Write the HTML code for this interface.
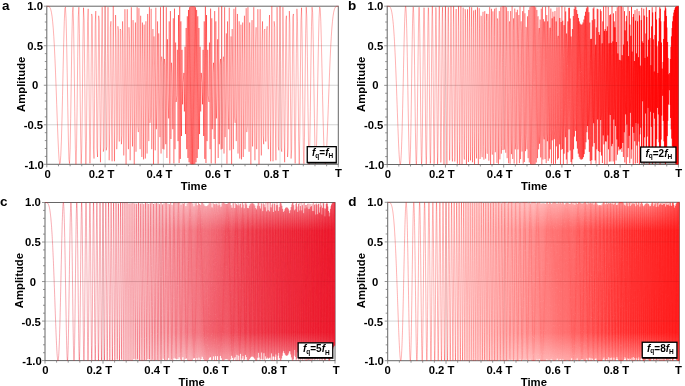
<!DOCTYPE html>
<html><head><meta charset="utf-8"><style>
html,body{margin:0;padding:0;background:#fff;width:685px;height:386px;overflow:hidden}
svg{display:block}
text{font-family:"Liberation Sans",sans-serif;font-weight:bold;fill:#000}
</style></head><body>
<svg width="685" height="386" viewBox="0 0 685 386">
<defs><filter id="lin" color-interpolation-filters="sRGB"><feComponentTransfer><feFuncA type="table" tableValues="0 0.01 0.02 0.029 0.039 0.049 0.059 0.069 0.079 0.088 0.098 0.108 0.118 0.128 0.137 0.147 0.157 0.167 0.177 0.187 0.196 0.206 0.216 0.225 0.234 0.244 0.253 0.262 0.271 0.281 0.29 0.299 0.308 0.318 0.327 0.336 0.345 0.355 0.364 0.373 0.389 0.405 0.421 0.437 0.453 0.469 0.484 0.5 0.516 0.532 0.548 0.564 0.58 0.599 0.62 0.641 0.662 0.683 0.704 0.726 0.747 0.768 0.789 0.808 0.82 0.832 0.845 0.857 0.87 0.882 0.893 0.904 0.915 0.927 0.938 0.949 0.96 0.967 0.973 0.98 0.987 0.993 1 1 1 1 1 1 1 1 1 1 1 1 1 1 1 1 1 1 1"/></feComponentTransfer><feGaussianBlur stdDeviation="0.3"/></filter></defs>
<path d="M105.1 6.2V164.3" stroke="#dcdcdc" stroke-width="0.9" stroke-opacity="1"/><path d="M163.4 6.2V164.3" stroke="#dcdcdc" stroke-width="0.9" stroke-opacity="1"/><path d="M221.7 6.2V164.3" stroke="#dcdcdc" stroke-width="0.9" stroke-opacity="1"/><path d="M280 6.2V164.3" stroke="#dcdcdc" stroke-width="0.9" stroke-opacity="1"/><path d="M46.8 45.72H338.3M46.8 85.25H338.3M46.8 124.78H338.3" fill="none" stroke="#dadada" stroke-width="0.9"/>
<rect x="46.8" y="6.2" width="291.5" height="158.1" fill="none" stroke="#666" stroke-width="1"/>
<g filter="url(#lin)" fill="none" stroke="#ff0000" stroke-linejoin="round"><path d="M46.8 6.2 47.38 6.2 47.97 6.22 48.55 6.33 49.13 6.6 49.71 7.17 50.3 8.21 50.88 9.92 51.46 12.51 52.05 16.22 52.63 21.3 53.21 27.97 53.8 36.41 54.38 46.73 54.96 58.94 55.54 72.88 56.13 88.23 56.71 104.43 57.29 120.69 57.88 136.02 58.46 149.2 59.04 158.93 59.63 163.9 60.21 162.99 60.79 155.46 61.38 141.15" stroke-width="0.320"/><path d="M61.38 141.15 61.96 120.69 62.54 95.65 63.12 68.49 63.71 42.47 64.29 21.3 64.87 8.56 65.46 7.1 66.04 18.24 66.62 41.23 67.2 72.88 67.79 107.78 68.37 139 68.95 159.46 69.54 163.61 70.12 149.2 70.7 118.46 71.29 78.31 71.87 39.19 72.45 12.51 73.03 7.17 73.62 26.28 74.2 65.11 74.78 111.56 75.37 149.49 75.95 164.3" stroke-width="0.320"/><path d="M75.95 164.3 76.53 148.91 77.12 107.78 77.7 56.61 78.28 16.96 78.86 7.17 79.45 33.35 80.03 84.75 80.61 137.15 81.2 163.74 81.78 149.2 82.36 99.57 82.95 41.23 83.53 7.69 84.11 20.15 84.69 72.88 85.28 134.09 85.86 164.11 86.44 141.5 87.03 79.79 87.61 21.3 88.19 8.81 88.78 53.4 89.36 122.9 89.94 163.4 90.53 141.15" stroke-width="0.320"/><path d="M90.53 141.15 91.11 72.39 91.69 13.94 92.27 16.96 92.86 80.78 93.44 149.2 94.02 158.56 94.61 98.11 95.19 24.66 95.77 11.04 96.36 72.88 96.94 148.01 97.52 156.99 98.1 88.23 98.69 15.74 99.27 21.3 99.85 100.55 100.44 162.29 101.02 132.12 101.6 44.58 102.19 7.17 102.77 68.49 103.35 151.73 103.93 148.01 104.52 60.35 105.1 6.2" stroke-width="0.320"/><path d="M105.1 6.2 105.68 61.3 106.27 150.35 106.85 146.47 107.43 53.4 108.01 7.17 108.6 78.31 109.18 160.28 109.76 125.92 110.35 27.29 110.93 21.3 111.51 119.36 112.1 161.3 112.68 75.84 113.26 6.22 113.84 72.88 114.43 161.3 115.01 114.81 115.59 15.04 116.18 43.31 116.76 149.2 117.34 135.25 117.93 26.28 118.51 30.78 119.09 141.5 119.67 141.15" stroke-width="0.320"/><path d="M119.67 141.15 120.26 29 120.84 30.78 121.42 144.22 122.01 135.25 122.59 21.3 123.17 43.31 123.76 155.46 124.34 114.81 124.92 9.2 125.5 72.88 126.09 164.28 126.67 75.84 127.25 9.2 127.84 119.36 128.42 149.2 129 27.29 129.59 44.58 130.17 160.28 130.75 92.19 131.33 7.17 131.92 117.1 132.5 146.47 133.08 20.15 133.67 61.3 134.25 164.3" stroke-width="0.320"/><path d="M134.25 164.3 134.83 60.35 135.42 22.49 136 151.73 136.58 102.01 137.16 7.17 137.75 125.92 138.33 132.12 138.91 8.21 139.5 100.55 140.08 149.2 140.66 15.74 141.25 82.27 141.83 156.99 142.41 22.49 143 72.88 143.58 159.46 144.16 24.66 144.74 72.39 145.33 158.56 145.91 21.3 146.49 80.78 147.08 153.54 147.66 13.94 148.24 98.11 148.82 141.15" stroke-width="0.320"/><path d="M148.82 141.15 149.41 7.1 149.99 122.9 150.57 117.1 151.16 8.81 151.74 149.2 152.32 79.79 152.91 29 153.49 164.11 154.07 36.41 154.66 72.88 155.24 150.35 155.82 7.69 156.4 129.27 156.99 99.57 157.57 21.3 158.15 163.74 158.74 33.35 159.32 84.75 159.9 137.15 160.49 7.17 161.07 153.54 161.65 56.61 162.23 62.72 162.82 148.91 163.4 6.2" stroke-width="0.320"/><path d="M163.4 6.2 163.98 149.49 164.57 58.94 165.15 65.11 165.73 144.22 166.31 7.17 166.9 157.99 167.48 39.19 168.06 92.19 168.65 118.46 169.23 21.3 169.81 163.61 170.4 11.04 170.98 139 171.56 62.72 172.14 72.88 172.73 129.27 173.31 18.24 173.89 163.4 174.48 8.56 175.06 149.2 175.64 42.47 176.23 102.01 176.81 95.65 177.39 49.81 177.98 141.15" stroke-width="0.338"/><path d="M177.98 141.15 178.56 15.04 179.14 162.99 179.72 6.6 180.31 158.93 180.89 21.3 181.47 136.02 182.06 49.81 182.64 104.43 183.22 82.27 183.81 72.88 184.39 111.56 184.97 46.73 185.55 134.09 186.14 27.97 186.72 149.2 187.3 16.22 187.89 157.99 188.47 9.92 189.05 162.29 189.63 7.17 190.22 163.9 190.8 6.33 191.38 164.28 191.97 6.2 192.55 164.3" stroke-width="0.370"/><path d="M192.55 164.3 193.13 6.2 193.72 164.28 194.3 6.33 194.88 163.9 195.46 7.17 196.05 162.29 196.63 9.92 197.21 157.99 197.8 16.22 198.38 149.2 198.96 27.97 199.55 134.09 200.13 46.73 200.71 111.56 201.3 72.88 201.88 82.27 202.46 104.43 203.04 49.81 203.63 136.02 204.21 21.3 204.79 158.93 205.38 6.6 205.96 162.99 206.54 15.04 207.12 141.15" stroke-width="0.370"/><path d="M207.12 141.15 207.71 49.81 208.29 95.65 208.87 102.01 209.46 42.47 210.04 149.2 210.62 8.56 211.21 163.4 211.79 18.24 212.37 129.27 212.95 72.88 213.54 62.72 214.12 139 214.7 11.04 215.29 163.61 215.87 21.3 216.45 118.46 217.04 92.19 217.62 39.19 218.2 157.99 218.78 7.17 219.37 144.22 219.95 65.11 220.53 58.94 221.12 149.49 221.7 6.2" stroke-width="0.338"/><path d="M221.7 6.2 222.28 148.91 222.87 62.72 223.45 56.61 224.03 153.54 224.62 7.17 225.2 137.15 225.78 84.75 226.36 33.35 226.95 163.74 227.53 21.3 228.11 99.57 228.7 129.27 229.28 7.69 229.86 150.35 230.44 72.88 231.03 36.41 231.61 164.11 232.19 29 232.78 79.79 233.36 149.2 233.94 8.81 234.53 117.1 235.11 122.9 235.69 7.1 236.27 141.15" stroke-width="0.320"/><path d="M236.27 141.15 236.86 98.11 237.44 13.94 238.02 153.54 238.61 80.78 239.19 21.3 239.77 158.56 240.36 72.39 240.94 24.66 241.52 159.46 242.11 72.88 242.69 22.49 243.27 156.99 243.85 82.27 244.44 15.74 245.02 149.2 245.6 100.55 246.19 8.21 246.77 132.12 247.35 125.92 247.94 7.17 248.52 102.01 249.1 151.73 249.68 22.49 250.27 60.35 250.85 164.3" stroke-width="0.320"/><path d="M250.85 164.3 251.43 61.3 252.02 20.15 252.6 146.47 253.18 117.1 253.76 7.17 254.35 92.19 254.93 160.28 255.51 44.58 256.1 27.29 256.68 149.2 257.26 119.36 257.85 9.2 258.43 75.84 259.01 164.28 259.59 72.88 260.18 9.2 260.76 114.81 261.34 155.46 261.93 43.31 262.51 21.3 263.09 135.25 263.68 144.22 264.26 30.78 264.84 29 265.43 141.15" stroke-width="0.320"/><path d="M265.43 141.15 266.01 141.5 266.59 30.78 267.17 26.28 267.76 135.25 268.34 149.2 268.92 43.31 269.51 15.04 270.09 114.81 270.67 161.3 271.25 72.88 271.84 6.22 272.42 75.84 273 161.3 273.59 119.36 274.17 21.3 274.75 27.29 275.34 125.92 275.92 160.28 276.5 78.31 277.08 7.17 277.67 53.4 278.25 146.47 278.83 150.35 279.42 61.3 280 6.2" stroke-width="0.320"/><path d="M280 6.2 280.58 60.35 281.17 148.01 281.75 151.73 282.33 68.49 282.92 7.17 283.5 44.58 284.08 132.12 284.66 162.29 285.25 100.55 285.83 21.3 286.41 15.74 287 88.23 287.58 156.99 288.16 148.01 288.75 72.88 289.33 11.04 289.91 24.66 290.49 98.11 291.08 158.56 291.66 149.2 292.24 80.78 292.83 16.96 293.41 13.94 293.99 72.39 294.57 141.15" stroke-width="0.320"/><path d="M294.57 141.15 295.16 163.4 295.74 122.9 296.32 53.4 296.91 8.81 297.49 21.3 298.07 79.79 298.66 141.5 299.24 164.11 299.82 134.09 300.4 72.88 300.99 20.15 301.57 7.69 302.15 41.23 302.74 99.57 303.32 149.2 303.9 163.74 304.49 137.15 305.07 84.75 305.65 33.35 306.24 7.17 306.82 16.96 307.4 56.61 307.98 107.78 308.57 148.91 309.15 164.3" stroke-width="0.320"/><path d="M309.15 164.3 309.73 149.49 310.32 111.56 310.9 65.11 311.48 26.28 312.06 7.17 312.65 12.51 313.23 39.19 313.81 78.31 314.4 118.46 314.98 149.2 315.56 163.61 316.15 159.46 316.73 139 317.31 107.78 317.9 72.88 318.48 41.23 319.06 18.24 319.64 7.1 320.23 8.56 320.81 21.3 321.39 42.47 321.98 68.49 322.56 95.65 323.14 120.69 323.73 141.15" stroke-width="0.320"/><path d="M323.73 141.15 324.31 155.46 324.89 162.99 325.47 163.9 326.06 158.93 326.64 149.2 327.22 136.02 327.81 120.69 328.39 104.43 328.97 88.23 329.56 72.88 330.14 58.94 330.72 46.73 331.3 36.41 331.89 27.97 332.47 21.3 333.05 16.22 333.64 12.51 334.22 9.92 334.8 8.21 335.38 7.17 335.97 6.6 336.55 6.33 337.13 6.22 337.72 6.2 338.3 6.2" stroke-width="0.320"/></g>
<path d="M46.8 45.72H338.3M46.8 85.25H338.3M46.8 124.78H338.3" fill="none" stroke="#f4f4f4" stroke-width="0.9" style="mix-blend-mode:multiply"/>
<path d="M46.8 164.3v3M58.46 164.3v2M70.12 164.3v2M81.78 164.3v2M93.44 164.3v2M105.1 164.3v3M116.76 164.3v2M128.42 164.3v2M140.08 164.3v2M151.74 164.3v2M163.4 164.3v3M175.06 164.3v2M186.72 164.3v2M198.38 164.3v2M210.04 164.3v2M221.7 164.3v3M233.36 164.3v2M245.02 164.3v2M256.68 164.3v2M268.34 164.3v2M280 164.3v3M291.66 164.3v2M303.32 164.3v2M314.98 164.3v2M326.64 164.3v2M338.3 164.3v3M46.8 164.3h-3M46.8 156.4h-2M46.8 148.49h-2M46.8 140.59h-2M46.8 132.68h-2M46.8 124.78h-3M46.8 116.87h-2M46.8 108.97h-2M46.8 101.06h-2M46.8 93.16h-2M46.8 85.25h-3M46.8 77.34h-2M46.8 69.44h-2M46.8 61.53h-2M46.8 53.63h-2M46.8 45.72h-3M46.8 37.82h-2M46.8 29.91h-2M46.8 22.01h-2M46.8 14.1h-2M46.8 6.2h-3" fill="none" stroke="#777" stroke-width="0.8"/>
<rect x="307.25" y="146.65" width="29" height="15.8" fill="#fff" stroke="#000" stroke-width="1.3"/><path d="M307.4 163.3H336.9" stroke="#000" stroke-width="0.9" stroke-opacity="0.8"/>
<path d="M445.44 6.2V164.5" stroke="#dcdcdc" stroke-width="0.9" stroke-opacity="1"/><path d="M503.68 6.2V164.5" stroke="#dcdcdc" stroke-width="0.9" stroke-opacity="0.6"/><path d="M561.92 6.2V164.5" stroke="#dcdcdc" stroke-width="0.9" stroke-opacity="0.3"/><path d="M620.16 6.2V164.5" stroke="#dcdcdc" stroke-width="0.9" stroke-opacity="0.15"/><path d="M387.2 45.77H678.4M387.2 85.35H678.4M387.2 124.92H678.4" fill="none" stroke="#dadada" stroke-width="0.9"/>
<rect x="387.2" y="6.2" width="291.2" height="158.3" fill="none" stroke="#666" stroke-width="1"/>
<g filter="url(#lin)" fill="none" stroke="#ff0000" stroke-linejoin="round"><path d="M387.2 6.2 387.49 6.2 387.78 6.2 388.07 6.21 388.36 6.22 388.66 6.26 388.95 6.33 389.24 6.43 389.53 6.6 389.82 6.84 390.11 7.17 390.4 7.63 390.69 8.22 390.99 8.97 391.28 9.92 391.57 11.09 391.86 12.51 392.15 14.22 392.44 16.23 392.73 18.59 393.02 21.32 393.32 24.44 393.61 27.99 393.9 31.99 394.19 36.45 394.48 41.38 394.77 46.78 395.06 52.67 395.35 59.01 395.64 65.79 395.94 72.97 396.23 80.5 396.52 88.33 396.81 96.38 397.1 104.55 397.39 112.75 397.68 120.84 397.97 128.7 398.27 136.18 398.56 143.13 398.85 149.38 399.14 154.77 399.43 159.12 399.72 162.28 400.01 164.1 400.3 164.44 400.6 163.19 400.89 160.27 401.18 155.65 401.47 149.31 401.76 141.32" stroke-width="0.320"/><path d="M401.76 141.32 402.05 131.77 402.34 120.84 402.63 108.74 402.92 95.76 403.22 82.24 403.51 68.57 403.8 55.18 404.09 42.52 404.38 31.08 404.67 21.32 404.96 13.68 405.25 8.56 405.55 6.29 405.84 7.1 406.13 11.09 406.42 18.26 406.71 28.42 407 41.27 407.29 56.33 407.58 72.97 407.88 90.44 408.17 107.91 408.46 124.46 408.75 139.17 409.04 151.16 409.33 159.65 409.62 164.01 409.91 163.81 410.2 158.9 410.5 149.38 410.79 135.71 411.08 118.6 411.37 99.08 411.66 78.4 411.95 57.95 412.24 39.23 412.53 23.66 412.83 12.51 413.12 6.81 413.41 7.17 413.7 13.79 413.99 26.31 414.28 43.89 414.57 65.18 414.86 88.46 415.16 111.69 415.45 132.77 415.74 149.67 416.03 160.66 416.32 164.5" stroke-width="0.320"/><path d="M416.32 164.5 416.61 160.59 416.9 149.09 417.19 130.96 417.48 107.91 417.78 82.24 418.07 56.68 418.36 34.04 418.65 16.97 418.94 7.58 419.23 7.17 419.52 16.05 419.81 33.38 420.11 57.26 420.4 84.85 420.69 112.75 420.98 137.32 421.27 155.24 421.56 163.94 421.85 161.98 422.14 149.38 422.44 127.66 422.73 99.69 423.02 69.42 423.31 41.27 423.6 19.54 423.89 7.7 424.18 7.82 424.47 20.17 424.76 43.04 425.06 72.97 425.35 105.15 425.64 134.25 425.93 155.24 426.22 164.31 426.51 159.61 426.8 141.67 427.09 113.44 427.39 79.88 427.68 47.11 427.97 21.32 428.26 7.58 428.55 8.81 428.84 25.08 429.13 53.46 429.42 88.46 429.72 123.04 430.01 150.03 430.3 163.6 430.59 160.59 430.88 141.32" stroke-width="0.320"/><path d="M430.88 141.32 431.17 109.69 431.46 72.48 431.75 37.93 432.04 13.95 432.34 6.26 432.63 16.97 432.92 43.89 433.21 80.88 433.5 119.16 433.79 149.38 434.08 163.89 434.37 158.76 434.67 134.93 434.96 98.22 435.25 57.95 435.54 24.68 435.83 7.4 436.12 11.05 436.41 34.99 436.7 72.97 437 114.6 437.29 148.19 437.58 164.01 437.87 157.18 438.16 129.32 438.45 88.33 438.74 46.24 439.03 15.75 439.32 6.36 439.62 21.32 439.91 56.33 440.2 100.67 440.49 140.34 440.78 162.48 441.07 159.61 441.36 132.27 441.65 89.2 441.95 44.63 442.24 13.68 442.53 7.17 442.82 27.74 443.11 68.57 443.4 115.52 443.69 151.91 443.98 164.44 444.28 148.19 444.57 108.74 444.86 60.42 445.15 21.24 445.44 6.2" stroke-width="0.320"/><path d="M445.44 6.2 445.73 21.39 446.02 61.36 446.31 110.87 446.6 150.53 446.9 164.44 447.19 146.65 447.48 103.95 447.77 53.46 448.06 15.93 448.35 7.17 448.64 31.26 448.93 78.4 449.23 128.7 449.52 160.47 449.81 159.61 450.1 126.07 450.39 74.32 450.68 27.31 450.97 6.35 451.26 21.32 451.56 65.79 451.85 119.5 452.14 157.44 452.43 161.49 452.72 129.32 453.01 75.92 453.3 26.89 453.59 6.22 453.88 24.44 454.18 72.97 454.47 127.87 454.76 161.49 455.05 156.48 455.34 114.95 455.63 57.95 455.92 15.05 456.21 8.97 456.51 43.36 456.8 100.3 457.09 149.38 457.38 163.86 457.67 135.42 457.96 79.26 458.25 26.31 458.54 6.26 458.84 30.81 459.13 86.47 459.42 141.67 459.71 164.5 460 141.32" stroke-width="0.320"/><path d="M460 141.32 460.29 85.23 460.58 29.03 460.87 6.21 461.16 30.81 461.46 88.46 461.75 144.39 462.04 164.27 462.33 135.42 462.62 75.31 462.91 21.32 463.2 7.63 463.49 43.36 463.79 106.12 464.08 155.65 464.37 159.61 464.66 114.95 464.95 50.64 465.24 9.21 465.53 18.59 465.82 72.97 466.12 135.9 466.41 164.48 466.7 138.71 466.99 75.92 467.28 19.54 467.57 9.21 467.86 52.67 468.15 119.5 468.44 162.04 468.74 149.38 469.03 90.2 469.32 27.31 469.61 6.97 469.9 44.63 470.19 112.75 470.48 160.47 470.77 151.57 471.07 92.3 471.36 27.57 471.65 7.17 471.94 47.33 472.23 117.24 472.52 162.28 472.81 146.65 473.1 82.24 473.4 20.17 473.69 10.43 473.98 61.36 474.27 131.97 474.56 164.5" stroke-width="0.320"/><path d="M474.56 164.5 474.85 131.77 475.14 60.42 475.43 9.74 475.72 22.51 476.02 88.46 476.31 151.91 476.6 158.52 476.89 102.13 477.18 31.08 477.47 7.17 477.76 51.76 478.05 126.07 478.35 164.41 478.64 132.27 478.93 57.95 479.22 8.22 479.51 28.42 479.8 100.67 480.09 158.99 480.38 149.38 480.68 80.26 480.97 15.75 481.26 16.54 481.55 82.37 481.84 151.16 482.13 157.18 482.42 94.16 482.71 22.51 483 11.8 483.3 72.97 483.59 146.42 483.88 159.65 484.17 99.08 484.46 24.68 484.75 11.09 485.04 72.48 485.33 147.04 485.63 158.76 485.92 95.15 486.21 21.32 486.5 13.79 486.79 80.88 487.08 152.77 487.37 153.73 487.66 82.24 487.96 13.95 488.25 21.98 488.54 98.22 488.83 160.66 489.12 141.32" stroke-width="0.320"/><path d="M489.12 141.32 489.41 60.77 489.7 7.1 489.99 39.74 490.28 123.04 490.58 164.44 490.87 117.24 491.16 34.04 491.45 8.81 491.74 70.64 492.03 149.38 492.32 154.65 492.61 79.88 492.91 11.35 493.2 29.03 493.49 112.75 493.78 164.31 494.07 122.5 494.36 36.45 494.65 8.72 494.94 72.97 495.24 152.25 495.53 150.53 495.82 69.42 496.11 7.7 496.4 41.38 496.69 129.43 496.98 162.88 497.27 99.69 497.56 18.45 497.86 21.32 498.15 105.15 498.44 163.94 498.73 122.5 499.02 33.38 499.31 11.09 499.6 84.85 499.89 159.35 500.19 137.32 500.48 47.11 500.77 7.17 501.06 70.64 501.35 153.73 501.64 145.62 501.93 56.68 502.22 6.26 502.52 62.79 502.81 150.03 503.1 149.09 503.39 60.77 503.68 6.2" stroke-width="0.320"/><path d="M503.68 6.2 503.97 61.01 504.26 149.67 504.55 148.72 504.84 59.01 505.14 6.26 505.43 65.18 505.72 152.77 506.01 144.39 506.3 51.54 506.59 7.17 506.88 75.55 507.17 158.19 507.47 134.93 507.76 39.23 508.05 11.09 508.34 92.3 508.63 163.3 508.92 118.6 509.21 24.28 509.5 21.32 509.8 114.6 510.09 163.81 510.38 94.16 510.67 11.05 510.96 41.38 511.25 139.17 511.54 154.16 511.83 62.79 512.12 6.36 512.42 72.97 512.71 158.99 513 129.43 513.29 30.36 513.58 18.26 513.87 112.75 514.16 163.6 514.45 89.2 514.75 8.56 515.04 51.76 515.33 149.38 515.62 142.96 515.91 42.52 516.2 12.18 516.49 102.13 516.78 164.44 517.08 95.76 517.37 9.74 517.66 49.86 517.95 149.46 518.24 141.32" stroke-width="0.320"/><path d="M518.24 141.32 518.53 38.73 518.82 15.05 519.11 110.87 519.4 163.19 519.7 82.24 519.99 6.6 520.28 66.75 520.57 159.12 520.86 123.37 521.15 21.32 521.44 31.26 521.73 136.18 522.03 151.57 522.32 49.86 522.61 11.09 522.9 104.55 523.19 163.73 523.48 82.37 523.77 6.35 524.06 72.97 524.36 162.04 524.65 111.69 524.94 13.26 525.23 46.78 525.52 151.16 525.81 134.25 526.1 26.89 526.39 27.99 526.68 135.9 526.98 149.38 527.27 42.83 527.56 16.23 527.85 120.06 528.14 158.19 528.43 57.95 528.72 9.92 529.01 106.12 529.31 162.48 529.6 70.4 529.89 7.17 530.18 95.39 530.47 164.1 530.76 79.26 531.05 6.33 531.34 88.46 531.64 164.48 531.93 84.23 532.22 6.2 532.51 85.47 532.8 164.5" stroke-width="0.323"/><path d="M532.8 164.5 533.09 85.23 533.38 6.2 533.67 86.47 533.96 164.48 534.26 82.24 534.55 6.33 534.84 91.44 535.13 164.1 535.42 75.31 535.71 7.17 536 100.3 536.29 162.48 536.59 64.58 536.88 9.92 537.17 112.75 537.46 158.19 537.75 50.64 538.04 16.23 538.33 127.87 538.62 149.38 538.92 34.8 539.21 27.99 539.5 143.81 539.79 134.25 540.08 19.54 540.37 46.78 540.66 157.44 540.95 111.69 541.24 8.66 541.54 72.97 541.83 164.35 542.12 82.37 542.41 6.97 542.7 104.55 542.99 159.61 543.28 49.86 543.57 19.13 543.87 136.18 544.16 139.44 544.45 21.32 544.74 47.33 545.03 159.12 545.32 103.95 545.61 6.6 545.9 88.46 546.2 163.19 546.49 59.83 546.78 15.05 547.07 131.97 547.36 141.32" stroke-width="0.330"/><path d="M547.36 141.32 547.65 21.24 547.94 49.86 548.23 160.96 548.52 95.76 548.82 6.26 549.11 102.13 549.4 158.52 549.69 42.52 549.98 27.74 550.27 149.38 550.56 118.94 550.85 8.56 551.15 81.5 551.44 163.6 551.73 57.95 552.02 18.26 552.31 140.34 552.6 129.43 552.89 11.71 553.18 72.97 553.48 164.34 553.77 62.79 554.06 16.54 554.35 139.17 554.64 129.32 554.93 11.05 555.22 76.54 555.51 163.81 555.8 56.1 556.1 21.32 556.39 146.42 556.68 118.6 556.97 7.4 557.26 92.3 557.55 159.61 557.84 39.23 558.13 35.77 558.43 158.19 558.72 95.15 559.01 7.17 559.3 119.16 559.59 144.39 559.88 17.93 560.17 65.18 560.46 164.44 560.76 59.01 561.05 21.98 561.34 149.67 561.63 109.69 561.92 6.2" stroke-width="0.337"/><path d="M561.92 6.2 562.21 109.93 562.5 149.09 562.79 20.67 563.08 62.79 563.38 164.44 563.67 56.68 563.96 25.08 564.25 153.73 564.54 100.06 564.83 7.17 565.12 123.59 565.41 137.32 565.71 11.35 566 84.85 566.29 159.61 566.58 33.38 566.87 48.2 567.16 163.94 567.45 65.55 567.74 21.32 568.04 152.25 568.33 99.69 568.62 7.82 568.91 129.43 569.2 129.32 569.49 7.7 569.78 101.28 570.07 150.53 570.36 18.45 570.66 72.97 570.95 161.98 571.24 36.45 571.53 48.2 571.82 164.31 572.11 57.95 572.4 29.03 572.69 159.35 572.99 79.88 573.28 16.05 573.57 149.38 573.86 100.06 574.15 8.81 574.44 136.66 574.73 117.24 575.02 6.26 575.32 123.04 575.61 130.96 575.9 7.1 576.19 109.93 576.48 141.32" stroke-width="0.345"/><path d="M576.48 141.32 576.77 10.04 577.06 98.22 577.35 148.72 577.64 13.95 577.94 88.46 578.23 153.73 578.52 17.93 578.81 80.88 579.1 156.91 579.39 21.32 579.68 75.55 579.97 158.76 580.27 23.66 580.56 72.48 580.85 159.61 581.14 24.68 581.43 71.62 581.72 159.65 582.01 24.28 582.3 72.97 582.6 158.9 582.89 22.51 583.18 76.54 583.47 157.18 583.76 19.54 584.05 82.37 584.34 154.16 584.63 15.75 584.92 90.44 585.22 149.38 585.51 11.71 585.8 100.67 586.09 142.28 586.38 8.22 586.67 112.75 586.96 132.27 587.25 6.29 587.55 126.07 587.84 118.94 588.13 7.17 588.42 139.62 588.71 102.13 589 12.18 589.29 151.91 589.58 82.24 589.88 22.51 590.17 160.96 590.46 60.42 590.75 38.93 591.04 164.5" stroke-width="0.355"/><path d="M591.04 164.5 591.33 38.73 591.62 61.36 591.91 160.27 592.2 20.17 592.5 88.46 592.79 146.65 593.08 8.42 593.37 117.24 593.66 123.37 593.95 7.17 594.24 143.13 594.53 92.3 594.83 19.13 595.12 160.47 595.41 57.95 595.7 44.63 595.99 163.73 596.28 27.31 596.57 80.5 596.86 149.38 597.16 8.66 597.45 119.5 597.74 118.03 598.03 9.21 598.32 151.16 598.61 75.92 598.9 31.99 599.19 164.48 599.48 34.8 599.78 72.97 600.07 152.11 600.36 9.21 600.65 120.06 600.94 114.95 601.23 11.09 601.52 155.65 601.81 64.58 602.11 43.36 602.4 163.07 602.69 21.32 602.98 95.39 603.27 135.42 603.56 6.43 603.85 144.39 604.14 82.24 604.44 30.81 604.73 164.49 605.02 29.03 605.31 85.47 605.6 141.32" stroke-width="0.365"/><path d="M605.6 141.32 605.89 6.2 606.18 141.67 606.47 84.23 606.76 30.81 607.06 164.44 607.35 26.31 607.64 91.44 607.93 135.42 608.22 6.84 608.51 149.38 608.8 70.4 609.09 43.36 609.39 161.73 609.68 15.05 609.97 112.75 610.26 114.95 610.55 14.22 610.84 161.49 611.13 42.83 611.42 72.97 611.72 146.26 612.01 6.22 612.3 143.81 612.59 75.92 612.88 41.38 613.17 161.49 613.46 13.26 613.75 119.5 614.04 104.91 614.34 21.32 614.63 164.35 614.92 27.31 615.21 96.38 615.5 126.07 615.79 11.09 616.08 160.47 616.37 42 616.67 78.4 616.96 139.44 617.25 7.17 617.54 154.77 617.83 53.46 618.12 66.75 618.41 146.65 618.7 6.26 619 150.53 619.29 59.83 619.58 61.36 619.87 149.31 620.16 6.2" stroke-width="0.375"/><path d="M620.16 6.2 620.45 149.46 620.74 60.42 621.03 61.96 621.32 148.19 621.62 6.26 621.91 151.91 622.2 55.18 622.49 68.57 622.78 142.96 623.07 7.17 623.36 157.02 623.65 44.63 623.95 81.5 624.24 132.27 624.53 11.09 624.82 162.48 625.11 30.36 625.4 100.67 625.69 114.37 625.98 21.32 626.28 164.34 626.57 15.75 626.86 124.46 627.15 88.33 627.44 41.38 627.73 157.18 628.02 6.69 628.31 148.19 628.6 56.1 628.9 72.97 629.19 135.71 629.48 11.05 629.77 163.3 630.06 24.68 630.35 112.75 630.64 98.22 630.93 35.77 631.23 158.76 631.52 6.81 631.81 149.38 632.1 51.54 632.39 80.88 632.68 126.81 632.97 16.97 633.26 164.44 633.56 13.95 633.85 132.77 634.14 72.48 634.43 61.01 634.72 141.32" stroke-width="0.385"/><path d="M634.72 141.32 635.01 10.11 635.3 163.6 635.59 20.67 635.88 123.04 636.18 82.24 636.47 53.46 636.76 145.62 637.05 8.81 637.34 163.12 637.63 21.32 637.92 123.59 638.21 79.88 638.51 57.26 638.8 141.67 639.09 11.09 639.38 164.31 639.67 15.46 639.96 134.25 640.25 65.55 640.54 72.97 640.84 127.66 641.13 20.17 641.42 162.88 641.71 7.7 642 151.16 642.29 41.27 642.58 101.28 642.87 99.69 643.16 43.04 643.46 149.38 643.75 8.72 644.04 163.94 644.33 15.46 644.62 137.32 644.91 57.95 645.2 84.85 645.49 113.44 645.79 33.38 646.08 154.65 646.37 7.17 646.66 163.12 646.95 16.97 647.24 136.66 647.53 56.68 647.82 88.46 648.12 107.91 648.41 39.74 648.7 149.09 648.99 10.11 649.28 164.5" stroke-width="0.392"/><path d="M649.28 164.5 649.57 10.04 649.86 149.67 650.15 37.93 650.44 111.69 650.74 82.24 651.03 65.18 651.32 126.81 651.61 26.31 651.9 156.91 652.19 7.17 652.48 163.89 652.77 12.51 653.07 147.04 653.36 39.23 653.65 112.75 653.94 78.4 654.23 71.62 654.52 118.6 654.81 34.99 655.1 149.38 655.4 11.8 655.69 163.81 655.98 6.69 656.27 159.65 656.56 19.54 656.85 139.17 657.14 46.24 657.43 107.91 657.72 80.26 658.02 72.97 658.31 114.37 658.6 41.27 658.89 142.28 659.18 18.26 659.47 159.61 659.76 7.1 660.05 164.41 660.35 8.56 660.64 157.02 660.93 21.32 661.22 139.62 661.51 42.52 661.8 115.52 662.09 68.57 662.38 88.46 662.68 95.76 662.97 61.96 663.26 120.84 663.55 38.93 663.84 141.32" stroke-width="0.395"/><path d="M663.84 141.32 664.13 21.39 664.42 155.65 664.71 10.43 665 163.19 665.3 6.26 665.59 164.1 665.88 8.42 666.17 159.12 666.46 15.93 666.75 149.38 667.04 27.57 667.33 136.18 667.63 42 667.92 120.84 668.21 57.95 668.5 104.55 668.79 74.32 669.08 88.33 669.37 90.2 669.66 72.97 669.96 104.91 670.25 59.01 670.54 118.03 670.83 46.78 671.12 129.32 671.41 36.45 671.7 138.71 671.99 27.99 672.28 146.26 672.58 21.32 672.87 152.11 673.16 16.23 673.45 156.48 673.74 12.51 674.03 159.61 674.32 9.92 674.61 161.73 674.91 8.22 675.2 163.07 675.49 7.17 675.78 163.86 676.07 6.6 676.36 164.27 676.65 6.33 676.94 164.44 677.24 6.22 677.53 164.49 677.82 6.2 678.11 164.5 678.4 6.2" stroke-width="0.398"/></g>
<path d="M387.2 45.77H678.4M387.2 85.35H678.4M387.2 124.92H678.4" fill="none" stroke="#f4f4f4" stroke-width="0.9" style="mix-blend-mode:multiply"/>
<path d="M387.2 164.5v3M398.85 164.5v2M410.5 164.5v2M422.14 164.5v2M433.79 164.5v2M445.44 164.5v3M457.09 164.5v2M468.74 164.5v2M480.38 164.5v2M492.03 164.5v2M503.68 164.5v3M515.33 164.5v2M526.98 164.5v2M538.62 164.5v2M550.27 164.5v2M561.92 164.5v3M573.57 164.5v2M585.22 164.5v2M596.86 164.5v2M608.51 164.5v2M620.16 164.5v3M631.81 164.5v2M643.46 164.5v2M655.1 164.5v2M666.75 164.5v2M678.4 164.5v3M387.2 164.5h-3M387.2 156.59h-2M387.2 148.67h-2M387.2 140.75h-2M387.2 132.84h-2M387.2 124.92h-3M387.2 117.01h-2M387.2 109.09h-2M387.2 101.18h-2M387.2 93.27h-2M387.2 85.35h-3M387.2 77.43h-2M387.2 69.52h-2M387.2 61.6h-2M387.2 53.69h-2M387.2 45.77h-3M387.2 37.86h-2M387.2 29.94h-2M387.2 22.03h-2M387.2 14.11h-2M387.2 6.2h-3" fill="none" stroke="#777" stroke-width="0.8"/>
<rect x="640.65" y="147.05" width="35.3" height="15.1" fill="#fff" stroke="#000" stroke-width="1.3"/><path d="M640.8 163H676.6" stroke="#000" stroke-width="0.9" stroke-opacity="0.8"/>
<path d="M103 202.5V360.6" stroke="#dcdcdc" stroke-width="0.9" stroke-opacity="1"/><path d="M161 202.5V360.6" stroke="#dcdcdc" stroke-width="0.9" stroke-opacity="0.6"/><path d="M219 202.5V360.6" stroke="#dcdcdc" stroke-width="0.9" stroke-opacity="0.3"/><path d="M277 202.5V360.6" stroke="#dcdcdc" stroke-width="0.9" stroke-opacity="0.15"/><path d="M45 242.03H335M45 281.55H335M45 321.08H335" fill="none" stroke="#dadada" stroke-width="0.9"/>
<rect x="45" y="202.5" width="290" height="158.1" fill="none" stroke="#666" stroke-width="1"/>
<g filter="url(#lin)" fill="none" stroke="#ea1224" stroke-linejoin="round"><path d="M45 202.5 45.12 202.5 45.23 202.5 45.35 202.5 45.46 202.5 45.58 202.5 45.7 202.5 45.81 202.51 45.93 202.51 46.04 202.52 46.16 202.52 46.28 202.54 46.39 202.55 46.51 202.57 46.62 202.6 46.74 202.63 46.86 202.66 46.97 202.71 47.09 202.76 47.2 202.83 47.32 202.9 47.44 202.99 47.55 203.08 47.67 203.2 47.78 203.33 47.9 203.47 48.02 203.64 48.13 203.82 48.25 204.03 48.36 204.26 48.48 204.51 48.6 204.79 48.71 205.1 48.83 205.44 48.94 205.81 49.06 206.22 49.18 206.66 49.29 207.13 49.41 207.65 49.52 208.21 49.64 208.81 49.76 209.45 49.87 210.14 49.99 210.88 50.1 211.67 50.22 212.52 50.34 213.42 50.45 214.37 50.57 215.39 50.68 216.46 50.8 217.6 50.92 218.8 51.03 220.06 51.15 221.39 51.26 222.8 51.38 224.27 51.5 225.81 51.61 227.42 51.73 229.11 51.84 230.87 51.96 232.71 52.08 234.62 52.19 236.61 52.31 238.67 52.42 240.82 52.54 243.03 52.66 245.33 52.77 247.69 52.89 250.14 53 252.65 53.12 255.24 53.24 257.9 53.35 260.62 53.47 263.42 53.58 266.27 53.7 269.18 53.82 272.16 53.93 275.18 54.05 278.25 54.16 281.37 54.28 284.53 54.4 287.72 54.51 290.94 54.63 294.19 54.74 297.45 54.86 300.73 54.98 304 55.09 307.28 55.21 310.54 55.32 313.78 55.44 316.99 55.56 320.17 55.67 323.3 55.79 326.38 55.9 329.39 56.02 332.32 56.14 335.17 56.25 337.92 56.37 340.57 56.48 343.1 56.6 345.5 56.72 347.77 56.83 349.88 56.95 351.84 57.06 353.63 57.18 355.23 57.3 356.64 57.41 357.86 57.53 358.86 57.64 359.65 57.76 360.2 57.88 360.52 57.99 360.6 58.11 360.42 58.22 359.99 58.34 359.29 58.46 358.33 58.57 357.1 58.69 355.59 58.8 353.81 58.92 351.76 59.04 349.43 59.15 346.83 59.27 343.96 59.38 340.83 59.5 337.45 59.62 333.81 59.73 329.94 59.85 325.83 59.96 321.52 60.08 316.99 60.2 312.29 60.31 307.41 60.43 302.38 60.54 297.22 60.66 291.95 60.78 286.59 60.89 281.17 61.01 275.71 61.12 270.24 61.24 264.79 61.36 259.38 61.47 254.05 61.59 248.81 61.7 243.71 61.82 238.77 61.94 234.03 62.05 229.51 62.17 225.25 62.28 221.27 62.4 217.6 62.52 214.27 62.63 211.31 62.75 208.74 62.86 206.58 62.98 204.86 63.1 203.6 63.21 202.81 63.33 202.5 63.44 202.7 63.56 203.4 63.68 204.61 63.79 206.33 63.91 208.57 64.02 211.31 64.14 214.54 64.26 218.26 64.37 222.44 64.49 227.06 64.6 232.1 64.72 237.53 64.84 243.31 64.95 249.41 65.07 255.78 65.18 262.39 65.3 269.18 65.42 276.11 65.53 283.12 65.65 290.16 65.76 297.16 65.88 304.08 66 310.85 66.11 317.42 66.23 323.72 66.34 329.7 66.46 335.3 66.58 340.46 66.69 345.14 66.81 349.28 66.92 352.83 67.04 355.76 67.16 358.02 67.27 359.59 67.39 360.44 67.5 360.55 67.62 359.91 67.74 358.51 67.85 356.36 67.97 353.46 68.08 349.83 68.2 345.5 68.32 340.5 68.43 334.88 68.55 328.67 68.66 321.94 68.78 314.76 68.9 307.18 69.01 299.3 69.13 291.18 69.24 282.92 69.36 274.61 69.48 266.33 69.59 258.18 69.71 250.26 69.82 242.67 69.94 235.49 70.06 228.81 70.17 222.73 70.29 217.32 70.4 212.65 70.52 208.81 70.64 205.83 70.75 203.78 70.87 202.68 70.98 202.58 71.1 203.47 71.22 205.37 71.33 208.27 71.45 212.13 71.56 216.92 71.68 222.58 71.8 229.06 71.91 236.28 72.03 244.15 72.14 252.56 72.26 261.41 72.38 270.58 72.49 279.94 72.61 289.36 72.72 298.72 72.84 307.86 72.96 316.66 73.07 324.98 73.19 332.68 73.3 339.66 73.42 345.79 73.54 350.97 73.65 355.11 73.77 358.14 73.88 359.98 74 360.6 74.12 359.97 74.23 358.1 74.35 354.98 74.46 350.67 74.58 345.21 74.7 338.68 74.81 331.18 74.93 322.83 75.04 313.74 75.16 304.08 75.28 293.99 75.39 283.66 75.51 273.24 75.62 262.93 75.74 252.91 75.86 243.36 75.97 234.46 76.09 226.37 76.2 219.26 76.32 213.26 76.44 208.49 76.55 205.06 76.67 203.05 76.78 202.51 76.9 203.47 77.02 205.93 77.13 209.85 77.25 215.17 77.36 221.81 77.48 229.65 77.6 238.54 77.71 248.32 77.83 258.81 77.94 269.79 78.06 281.05 78.18 292.36 78.29 303.49 78.41 314.2 78.52 324.26 78.64 333.45 78.76 341.58 78.87 348.44 78.99 353.89 79.1 357.79 79.22 360.04 79.34 360.57 79.45 359.35 79.57 356.39 79.68 351.75 79.8 345.5 79.92 337.78 80.03 328.75 80.15 318.6 80.26 307.56 80.38 295.87 80.5 283.81 80.61 271.66 80.73 259.71 80.84 248.23 80.96 237.53 81.08 227.86 81.19 219.47 81.31 212.58 81.42 207.37 81.54 203.99 81.66 202.55 81.77 203.1 81.89 205.63 82 210.12 82.12 216.45 82.24 224.49 82.35 234.03 82.47 244.85 82.58 256.67 82.7 269.18 82.82 282.07 82.93 294.97 83.05 307.56 83.16 319.48 83.28 330.39 83.4 340 83.51 348.02 83.63 354.21 83.74 358.39 83.86 360.41 83.98 360.21 84.09 357.76 84.21 353.13 84.32 346.41 84.44 337.8 84.56 327.51 84.67 315.85 84.79 303.15 84.9 289.76 85.02 276.09 85.14 262.55 85.25 249.54 85.37 237.46 85.48 226.7 85.6 217.6 85.72 210.44 85.83 205.48 85.95 202.88 86.06 202.75 86.18 205.11 86.3 209.91 86.41 217.01 86.53 226.2 86.64 237.22 86.76 249.7 86.88 263.26 86.99 277.46 87.11 291.83 87.22 305.9 87.34 319.2 87.46 331.26 87.57 341.68 87.69 350.08 87.8 356.17 87.92 359.7 88.04 360.55 88.15 358.66 88.27 354.07 88.38 346.92 88.5 337.45 88.62 325.97 88.73 312.87 88.85 298.62 88.96 283.72 89.08 268.69 89.2 254.1 89.31 240.48 89.43 228.33 89.54 218.11 89.66 210.24 89.78 205 89.89 202.63 90.01 203.24 90.12 206.82 90.24 213.26 90.36 222.33 90.47 233.71 90.59 246.98 90.7 261.62 90.82 277.08 90.94 292.76 91.05 308.03 91.17 322.28 91.28 334.95 91.4 345.5 91.52 353.5 91.63 358.6 91.75 360.58 91.86 359.32 91.98 354.86 92.1 347.36 92.21 337.11 92.33 324.51 92.44 310.08 92.56 294.41 92.68 278.15 92.79 262.01 92.91 246.66 93.02 232.77 93.14 220.96 93.26 211.75 93.37 205.56 93.49 202.69 93.6 203.28 93.72 207.34 93.84 214.71 93.95 225.08 94.07 238.01 94.18 252.93 94.3 269.18 94.42 286.04 94.53 302.73 94.65 318.48 94.76 332.56 94.88 344.31 95 353.17 95.11 358.69 95.23 360.6 95.34 358.78 95.46 353.29 95.58 344.36 95.69 332.41 95.81 317.99 95.92 301.77 96.04 284.53 96.16 267.11 96.27 250.36 96.39 235.1 96.5 222.11 96.62 212.04 96.74 205.42 96.85 202.59 96.97 203.73 97.08 208.81 97.2 217.6 97.32 229.66 97.43 244.41 97.55 261.1 97.66 278.89 97.78 296.85 97.9 314.05 98.01 329.59 98.13 342.64 98.24 352.48 98.36 358.59 98.48 360.6 98.59 358.39 98.71 352.04 98.82 341.87 98.94 328.42 99.06 312.38 99.17 294.62 99.29 276.11 99.4 257.86 99.52 240.88 99.64 226.13 99.75 214.45 99.87 206.5 99.98 202.76 100.1 203.47 100.22 208.62 100.33 217.94 100.45 230.92 100.56 246.84 100.68 264.79 100.8 283.75 100.91 302.63 101.03 320.31 101.14 335.75 101.26 348.03 101.38 356.39 101.49 360.33 101.61 359.57 101.72 354.13 101.84 344.31 101.96 330.69 102.07 314.05 102.19 295.41 102.3 275.87 102.42 256.65 102.54 238.92 102.65 223.8 102.77 212.24 102.88 204.98 103 202.5 103.12 204.99 103.23 212.32 103.35 224.05 103.46 239.46 103.58 257.6 103.7 277.3 103.81 297.32 103.93 316.35 104.04 333.17 104.16 346.65 104.28 355.9 104.39 360.28 104.51 359.49 104.62 353.53 104.74 342.77 104.86 327.92 104.97 309.93 105.09 290 105.2 269.46 105.32 249.7 105.44 232.07 105.55 217.78 105.67 207.84 105.78 202.95 105.9 203.47 106.02 209.41 106.13 220.38 106.25 235.63 106.36 254.14 106.48 274.61 106.6 295.6 106.71 315.64 106.83 333.29 106.94 347.27 107.06 356.58 107.18 360.5 107.29 358.72 107.41 351.35 107.52 338.89 107.64 322.22 107.76 302.53 107.87 281.27 107.99 259.99 108.1 240.27 108.22 223.59 108.34 211.2 108.45 204.06 108.57 202.73 108.68 207.35 108.8 217.6 108.92 232.72 109.03 251.6 109.15 272.81 109.26 294.72 109.38 315.66 109.5 333.99 109.61 348.28 109.73 357.4 109.84 360.6 109.96 357.6 110.08 348.6 110.19 334.29 110.31 315.76 110.42 294.48 110.54 272.14 110.66 250.5 110.77 231.33 110.89 216.18 111 206.3 111.12 202.52 111.24 205.19 111.35 214.11 111.47 228.59 111.58 247.46 111.7 269.18 111.82 291.97 111.93 313.93 112.05 333.21 112.16 348.2 112.28 357.6 112.4 360.59 112.51 356.89 112.63 346.77 112.74 331.08 112.86 311.11 112.98 288.57 113.09 265.39 113.21 243.57 113.32 225.01 113.44 211.34 113.56 203.79 113.67 203.04 113.79 209.19 113.9 221.74 114.02 239.61 114.14 261.24 114.25 284.71 114.37 307.93 114.48 328.83 114.6 345.5 114.72 356.42 114.83 360.58 114.95 357.55 115.06 347.58 115.18 331.55 115.3 310.91 115.41 287.52 115.53 263.55 115.64 241.21 115.76 222.58 115.88 209.43 115.99 203.02 116.11 203.97 116.22 212.24 116.34 227.08 116.46 247.1 116.57 270.44 116.69 294.88 116.8 318.07 116.92 337.8 117.04 352.13 117.15 359.65 117.27 359.61 117.38 351.98 117.5 337.45 117.62 317.42 117.73 293.84 117.85 269.01 117.96 245.38 118.08 225.3 118.2 210.79 118.31 203.33 118.43 203.68 118.54 211.86 118.66 227.08 118.78 247.82 118.89 272.02 119.01 297.22 119.12 320.86 119.24 340.52 119.36 354.15 119.47 360.32 119.59 358.36 119.7 348.44 119.82 331.55 119.94 309.43 120.05 284.35 120.17 258.94 120.28 235.88 120.4 217.6 120.52 206.06 120.63 202.53 120.75 207.4 120.86 220.21 120.98 239.61 121.1 263.55 121.21 289.46 121.33 314.56 121.44 336.11 121.56 351.76 121.68 359.76 121.79 359.22 121.91 350.15 122.02 333.51 122.14 311.11 122.26 285.4 122.37 259.23 122.49 235.5 122.6 216.89 122.72 205.5 122.84 202.64 122.95 208.68 123.07 222.97 123.18 243.92 123.3 269.18 123.42 295.89 123.53 321 123.65 341.61 123.76 355.34 123.88 360.58 124 356.66 124.11 344.02 124.23 324.09 124.34 299.16 124.46 272.14 124.58 246.18 124.69 224.35 124.81 209.25 124.92 202.69 125.04 205.5 125.16 217.38 125.27 236.94 125.39 261.87 125.5 289.21 125.62 315.66 125.74 338.02 125.85 353.57 125.97 360.38 126.08 357.59 126.2 345.5 126.32 325.55 126.43 300.17 126.55 272.45 126.66 245.82 126.78 223.59 126.9 208.53 127.01 202.56 127.13 206.46 127.24 219.78 127.36 240.88 127.48 267.15 127.59 295.27 127.71 321.69 127.82 343.04 127.94 356.58 128.06 360.54 128.17 354.38 128.29 338.85 128.4 315.91 128.52 288.49 128.64 260.15 128.75 234.54 128.87 215.03 128.98 204.19 129.1 203.47 129.22 213.02 129.33 231.61 129.45 256.82 129.56 285.34 129.68 313.4 129.8 337.25 129.91 353.69 130.03 360.49 130.14 356.69 130.26 342.77 130.38 320.57 130.49 293.05 130.61 263.94 130.72 237.18 130.84 216.45 130.96 204.6 131.07 203.29 131.19 212.75 131.3 231.71 131.42 257.6 131.54 286.83 131.65 315.37 131.77 339.23 131.88 355.06 132 360.6 132.12 355.04 132.23 339.12 132.35 315.05 132.46 286.2 132.58 256.65 132.7 230.61 132.81 211.81 132.93 202.97 133.04 205.4 133.16 218.79 133.28 241.24 133.39 269.56 133.51 299.65 133.62 327.14 133.74 348.03 133.86 359.22 133.97 359.05 134.09 347.49 134.2 326.21 134.32 298.31 134.44 267.89 134.55 239.46 134.67 217.26 134.78 204.62 134.9 203.47 135.02 214.03 135.13 234.75 135.25 262.55 135.36 293.25 135.48 322.22 135.6 345.04 135.71 358.23 135.83 359.74 135.94 349.28 136.06 328.42 136.18 300.32 136.29 269.3 136.41 240.14 136.52 217.35 136.64 204.51 136.76 203.66 136.87 214.96 136.99 236.69 137.1 265.49 137.22 296.85 137.34 325.83 137.45 347.85 137.57 359.39 137.68 358.58 137.8 345.5 137.92 322.2 138.03 292.36 138.15 260.76 138.26 232.46 138.38 212.04 138.5 202.83 138.61 206.36 138.73 222.11 138.84 247.55 138.96 278.57 139.08 310.11 139.19 337.01 139.31 354.82 139.42 360.58 139.54 353.29 139.66 334.11 139.77 306.19 139.89 274.13 140 243.28 140.12 218.79 140.24 204.78 140.35 203.67 140.47 215.66 140.58 238.79 140.7 269.18 140.82 301.71 140.93 330.84 141.05 351.61 141.16 360.43 141.28 355.76 141.4 338.34 141.51 311.13 141.63 278.79 141.74 246.89 141.86 220.96 141.98 205.52 142.09 203.31 142.21 214.74 142.32 237.88 142.44 268.69 142.56 301.8 142.67 331.39 142.79 352.2 142.9 360.53 143.02 354.86 143.14 336.15 143.25 307.69 143.37 274.53 143.48 242.58 143.6 217.6 143.72 204.09 143.83 204.53 143.95 218.89 144.06 244.62 144.18 277.08 144.3 310.39 144.41 338.48 144.53 356.19 144.64 360.24 144.76 349.84 144.88 326.87 144.99 295.5 145.11 261.53 145.22 231.22 145.34 210.24 145.46 202.5 145.57 209.52 145.69 230.01 145.8 260.18 145.92 294.41 146.04 326.25 146.15 349.68 146.27 360.26 146.38 355.92 146.5 337.45 146.62 308.31 146.73 274.03 146.85 241.16 146.96 215.99 147.08 203.4 147.2 205.84 147.31 222.9 147.43 251.33 147.54 285.64 147.66 319.2 147.78 345.46 147.89 359.27 148.01 357.89 148.12 341.55 148.24 313.4 148.36 278.95 148.47 244.97 148.59 218.2 148.7 203.95 148.82 205.11 148.94 221.49 149.05 249.86 149.17 284.61 149.28 318.78 149.4 345.5 149.52 359.38 149.63 357.58 149.75 340.4 149.86 311.28 149.98 276.09 150.1 241.98 150.21 215.9 150.33 203.22 150.44 206.56 150.56 225.3 150.68 255.63 150.79 291.34 150.91 325.06 151.02 349.8 151.14 360.41 151.26 354.63 151.37 333.62 151.49 301.71 151.6 265.55 151.72 232.71 151.84 210.1 151.95 202.52 152.07 211.61 152.18 235.5 152.3 269.18 152.42 305.52 152.53 336.8 152.65 356.32 152.76 359.87 152.88 346.65 153 319.44 153.11 284.05 153.23 248.09 153.34 219.32 153.46 203.99 153.58 205.48 153.69 223.51 153.81 254.19 153.92 290.89 154.04 325.57 154.16 350.64 154.27 360.55 154.39 353.09 154.5 329.83 154.62 295.87 154.74 258.71 154.85 226.59 154.97 206.66 155.08 203.4 155.2 217.6 155.32 246.12 155.43 282.62 155.55 318.92 155.66 346.83 155.78 360.04 155.9 355.51 156.01 334.21 156.13 300.94 156.24 263.22 156.36 229.65 156.48 207.9 156.59 202.99 156.71 216.1 156.82 244.27 156.94 281.05 157.06 317.99 157.17 346.53 157.29 360.04 157.4 355.33 157.52 333.45 157.64 299.45 157.75 261.24 157.87 227.74 157.98 206.84 158.1 203.47 158.22 218.5 158.33 248.41 158.45 286.2 158.56 322.91 158.68 349.84 158.8 360.55 158.91 352.44 159.03 327.39 159.14 291.34 159.26 252.91 159.38 221.33 159.49 204.22 159.61 205.74 159.72 225.6 159.84 259.02 159.96 297.94 160.07 332.91 160.19 355.4 160.3 359.88 160.42 345.21 160.54 314.92 160.65 276.41 160.77 239.13 160.88 212.27 161 202.5 161.12 212.29 161.23 239.26 161.35 276.76 161.46 315.5 161.58 345.79 161.7 360.06 161.81 354.68 161.93 330.95 162.04 294.78 162.16 255.24 162.28 222.31 162.39 204.32 162.51 205.89 162.62 226.66 162.74 261.41 162.86 301.32 162.97 336.23 163.09 357.17 163.2 358.76 163.32 340.52 163.44 307.09 163.55 267.05 163.67 230.72 163.78 207.51 163.9 203.47 164.02 219.71 164.13 252.06 164.25 292.13 164.36 329.46 164.48 354.29 164.6 360.07 164.71 345.22 164.83 313.6 164.94 273.5 165.06 235.49 165.18 209.64 165.29 202.84 165.41 216.95 165.52 248.27 165.64 288.49 165.76 326.9 165.87 353.19 165.99 360.3 166.1 346.24 166.22 314.76 166.34 274.29 166.45 235.75 166.57 209.57 166.68 202.9 166.8 217.6 166.92 249.72 167.03 290.55 167.15 328.96 167.26 354.42 167.38 359.91 167.5 343.88 167.61 310.67 167.73 269.4 167.84 231.45 167.96 207.34 168.08 203.79 168.19 221.85 168.31 256.54 168.42 298.23 168.54 335.3 168.66 357.36 168.77 358.17 168.89 337.46 169 301 169.12 259.02 169.24 223.37 169.35 204.16 169.47 206.87 169.58 230.8 169.7 269.18 169.82 311.13 169.93 344.66 170.05 360.17 170.16 353.15 170.28 325.57 170.4 285.3 170.51 243.92 170.63 213.37 170.74 202.51 170.86 214.54 170.98 246.03 171.09 287.88 171.21 327.92 171.32 354.46 171.44 359.7 171.56 342.06 171.67 306.66 171.79 263.84 171.9 226.2 172.02 204.86 172.14 206.16 172.25 229.78 172.37 268.77 172.48 311.59 172.6 345.5 172.72 360.38 172.83 351.72 172.95 322.06 173.06 280.24 173.18 238.77 173.3 210.14 173.41 203 173.53 219.57 173.64 254.88 173.76 298.31 173.88 336.68 173.99 358.33 174.11 356.61 174.22 332 174.34 291.95 174.46 248.69 174.57 215.46 174.69 202.51 174.8 213.88 174.92 246.11 175.04 289.31 175.15 330.14 175.27 355.95 175.38 358.69 175.5 337.45 175.62 298.77 175.73 254.7 175.85 218.98 175.96 202.82 176.08 211.34 176.2 241.93 176.31 285.01 176.43 327.03 176.54 354.72 176.66 359.29 176.78 339.23 176.89 300.84 177.01 256.29 177.12 219.75 177.24 202.9 177.36 211.17 177.47 241.98 177.59 285.5 177.7 327.79 177.82 355.23 177.94 358.94 178.05 337.67 178.17 298.23 178.28 253.36 178.4 217.6 178.52 202.6 178.63 213.3 178.75 246.27 178.86 290.79 178.98 332.32 179.1 357.24 179.21 357.33 179.33 332.49 179.44 290.85 179.56 246.11 179.68 213.05 179.79 202.65 179.91 218.41 180.02 255.17 180.14 300.73 180.26 339.93 180.37 359.67 180.49 353.29 180.6 322.88 180.72 278.57 180.84 235.23 180.95 207.45 181.07 204.64 181.18 227.81 181.3 269.18 181.42 314.78 181.53 349.12 181.65 360.52 181.76 345.02 181.88 307.86 182 261.68 182.11 222.27 182.23 203.15 182.34 210.95 182.46 243.03 182.58 288.42 182.69 331.46 182.81 357.29 182.92 356.91 183.04 330.39 183.16 286.89 183.27 241.5 183.39 210.03 183.5 203.51 183.62 224.27 183.74 265.1 183.85 311.74 183.97 347.8 184.08 360.57 184.2 345.5 184.32 307.84 184.43 260.85 184.55 221.16 184.66 202.87 184.78 212.52 184.9 246.75 185.01 293.41 185.13 335.87 185.24 358.93 185.36 354.29 185.48 323.55 185.59 277.7 185.71 233.19 185.82 206.09 185.94 206.22 186.06 233.59 186.17 278.35 186.29 324.31 186.4 354.76 186.52 358.59 186.64 334.33 186.75 290.79 186.87 243.83 186.98 210.66 187.1 203.47 187.22 224.97 187.33 267.3 187.45 314.92 187.56 350.25 187.68 360.2 187.8 341.03 187.91 299.78 188.03 251.73 188.14 214.74 188.26 202.63 188.38 219.96 188.49 260.34 188.61 308.68 188.72 346.89 188.84 360.58 188.96 344.54 189.07 304.77 189.19 256.2 189.3 217.18 189.42 202.5 189.54 217.78 189.65 257.29 189.77 306.05 189.88 345.51 190 360.6 190.12 345.49 190.23 305.9 190.35 256.95 190.46 217.41 190.58 202.5 190.7 218.02 190.81 258.05 190.93 307.18 191.04 346.44 191.16 360.58 191.28 344.06 191.39 303.24 191.51 253.95 191.62 215.39 191.74 202.63 191.86 220.72 191.97 262.64 192.09 312.01 192.2 349.45 192.32 360.2 192.44 339.97 192.55 296.67 192.67 247.37 192.78 211.56 192.9 203.47 193.02 226.37 193.13 271.23 193.25 320.22 193.36 353.83 193.48 358.59 193.6 332.53 193.71 286.04 193.83 237.71 193.94 206.97 194.06 206.22 194.18 235.83 194.29 283.91 194.41 331.08 194.52 358.22 194.64 354.29 194.76 320.83 194.87 271.37 194.99 226.02 195.1 203.29 195.22 212.52 195.34 249.99 195.45 300.42 195.57 343.14 195.68 360.58 195.8 345.5 195.92 304.06 196.03 253.3 196.15 214.19 196.26 202.93 196.38 224.27 196.5 269.4 196.61 319.62 196.73 354.01 196.84 358.21 196.96 330.39 197.08 282.13 197.19 233.59 197.31 205.14 197.42 208.77 197.54 243.03 197.66 293.54 197.77 339.03 197.89 360.25 198 348.18 198.12 307.86 198.24 256.35 198.35 215.52 198.47 202.77 198.58 223.6 198.7 269.18 198.82 320.08 198.93 354.52 199.05 357.68 199.16 328.16 199.28 278.57 199.4 230.23 199.51 204 199.63 211.24 199.74 248.9 199.86 300.73 199.98 344.27 200.09 360.59 200.21 342.53 200.32 297.9 200.44 246.11 200.56 209.76 200.67 204.81 200.79 233.48 200.9 283.26 201.02 332.32 201.14 359.07 201.25 351.67 201.37 313.33 201.48 260.91 201.6 217.6 201.72 202.6 201.83 222.64 201.95 268.87 202.06 320.78 202.18 355.23 202.3 356.82 202.41 324.76 202.53 273.34 202.64 225.57 202.76 202.9 202.88 215.57 202.99 257.96 203.11 311 203.22 350.78 203.34 359.29 203.46 332.61 203.57 282.76 203.69 232.33 203.8 204.25 203.92 211.34 204.04 250.45 204.15 303.78 204.27 346.98 204.38 360.25 204.5 337.45 204.62 288.97 204.73 237.05 204.85 205.59 204.96 209.13 205.08 246.11 205.2 299.49 205.31 344.6 205.43 360.51 205.54 339.77 205.66 291.95 205.78 239.26 205.89 206.25 206.01 208.38 206.12 244.71 206.24 298.31 206.36 344.08 206.47 360.53 206.59 339.86 206.7 291.73 206.82 238.77 206.94 205.97 207.05 208.88 207.17 246.18 207.28 300.26 207.4 345.5 207.52 360.37 207.63 337.74 207.75 288.32 207.86 235.63 207.98 204.86 208.1 210.77 208.21 250.59 208.33 305.3 208.44 348.62 208.56 359.7 208.68 333.14 208.79 281.67 208.91 230.11 209.02 203.41 209.14 214.54 209.26 258.18 209.37 313.2 209.49 352.86 209.6 357.81 209.72 325.57 209.84 271.82 209.95 222.8 210.07 202.51 210.18 220.97 210.3 269.18 210.42 323.5 210.53 357.2 210.65 353.63 210.76 314.47 210.88 259.02 211 214.69 211.11 203.47 211.23 230.99 211.34 283.66 211.46 335.3 211.58 360.19 211.69 345.86 211.81 299.39 211.92 243.97 212.04 207.34 212.16 207.91 212.27 245.47 212.39 301.19 212.5 347.05 212.62 359.91 212.74 333.21 212.85 280.38 212.97 228.11 213.08 202.9 213.2 217.6 213.32 264.81 213.43 320.57 213.55 356.48 213.66 354.17 213.78 314.76 213.9 258.33 214.01 213.77 214.13 203.95 214.24 233.98 214.36 288.49 214.48 339.46 214.59 360.59 214.71 340.93 214.82 290.55 214.94 235.49 215.06 204.27 215.17 213.15 215.29 257.58 215.4 314.51 215.52 354.29 215.64 356.15 215.75 319.04 215.87 262.3 215.98 215.61 216.1 203.47 216.22 232.33 216.33 287.09 216.45 338.96 216.56 360.59 216.68 340.52 216.8 289.27 216.91 233.9 217.03 203.76 217.14 214.87 217.26 261.41 217.38 318.69 217.49 356.22 217.61 353.95 217.72 313.02 217.84 255.24 217.96 211.52 218.07 205.31 218.19 240.02 218.3 297.06 218.42 345.79 218.54 359.94 218.65 331.8 218.77 276.51 218.88 223.91 219 202.5 219.12 223.94 219.23 276.67 219.35 332.08 219.46 360.02 219.58 345.21 219.7 295.66 219.81 238.37 219.93 204.68 220.04 213.07 220.16 259.02 220.28 317.37 220.39 356.05 220.51 353.75 220.62 311.65 220.74 252.91 220.86 209.97 220.97 206.61 221.09 244.76 221.2 303.34 221.32 349.84 221.44 358.4 221.55 324.18 221.67 266.17 221.78 216.72 221.9 203.47 222.02 233.9 222.13 291.04 222.25 342.89 222.36 360.31 222.48 333.45 222.6 277.36 222.71 223.6 222.83 202.52 222.94 226.09 223.06 281.05 223.18 336.33 223.29 360.56 223.41 339.93 223.52 286.1 223.64 229.65 223.76 202.75 223.87 220.82 223.99 273.6 224.1 330.95 224.22 360.04 224.34 344.12 224.45 292.27 224.57 234.22 224.68 203.39 224.8 217.6 224.92 268.71 225.03 327.27 225.15 359.41 225.26 346.47 225.38 295.87 225.5 236.94 225.61 203.9 225.73 216.05 225.84 266.37 225.96 325.57 226.08 359.09 226.19 347.27 226.31 296.97 226.42 237.6 226.54 203.99 226.66 215.96 226.77 266.52 226.89 325.97 227 359.24 227.12 346.65 227.24 295.56 227.35 236.15 227.47 203.62 227.58 217.32 227.7 269.18 227.82 328.43 227.93 359.79 228.05 344.51 228.16 291.63 228.28 232.71 228.4 202.98 228.51 220.31 228.63 274.39 228.74 332.79 228.86 360.41 228.98 340.57 229.09 285.14 229.21 227.52 229.32 202.52 229.44 225.3 229.56 282.17 229.67 338.68 229.79 360.54 229.9 334.41 230.02 276.09 230.14 221.07 230.25 202.92 230.37 232.77 230.48 292.46 230.6 345.5 230.72 359.38 230.83 325.5 230.95 264.62 231.06 214.11 231.18 205.11 231.3 243.22 231.41 305.01 231.53 352.33 231.64 355.89 231.76 313.4 231.88 251.14 231.99 207.73 232.11 210.18 232.22 257.05 232.34 319.2 232.46 357.89 232.57 348.94 232.69 297.84 232.8 236.53 232.92 203.4 233.04 219.28 233.15 274.29 233.27 333.89 233.38 360.56 233.5 337.45 233.62 279.05 233.73 222.2 233.85 202.87 233.96 233.35 234.08 294.41 234.2 347.33 234.31 358.48 234.43 320.69 234.54 257.96 234.66 210.24 234.78 208.02 234.89 252.8 235.01 316 235.12 357.15 235.24 349.84 235.36 298.68 235.47 236.48 235.59 203.26 235.7 220.46 235.82 277.08 235.94 336.61 236.05 360.57 236.17 333.39 236.28 272.61 236.4 217.6 236.52 204.1 236.63 240.95 236.75 304.25 236.86 352.79 236.98 354.86 237.1 309.05 237.21 245.24 237.33 205.16 237.44 215.14 237.56 268.69 237.68 330.72 237.79 360.44 237.91 338.23 238.02 278.65 238.14 220.96 238.26 203.27 238.37 237.35 238.49 300.71 238.6 351.4 238.72 355.76 238.84 310.82 238.95 246.39 239.07 205.35 239.18 215.08 239.3 269.18 239.42 331.57 239.53 360.53 239.65 336.61 239.76 275.77 239.88 218.79 240 203.94 240.11 241.29 240.23 305.77 240.34 353.95 240.46 353.29 240.58 304.16 240.69 239.71 240.81 203.57 240.92 220.28 241.04 278.57 241.16 338.92 241.27 360.27 241.39 328.03 241.5 264.09 241.62 212.04 241.74 207.45 241.85 253.54 241.97 318.83 242.08 358.59 242.2 345.5 242.32 288.47 242.43 226.66 242.55 202.61 242.66 232.96 242.78 296.85 242.9 350.2 243.01 356.1 243.13 310.39 243.24 244.67 243.36 204.51 243.48 217.84 243.59 275.48 243.71 337.36 243.82 360.38 243.94 328.42 244.06 263.71 244.17 211.44 244.29 208.23 244.4 256.39 244.52 322.22 244.64 359.52 244.75 342.03 244.87 281.97 244.98 221.59 245.1 203.47 245.22 240.48 245.33 306.53 245.45 354.93 245.56 351.38 245.68 298.31 245.8 233.32 245.91 202.58 246.03 228 246.14 291.58 246.26 348.03 246.38 357.06 246.49 312.14 246.61 245.33 246.72 204.42 246.84 218.79 246.96 278.19 247.07 340.04 247.19 359.85 247.3 323.3 247.42 256.65 247.54 207.93 247.65 212.36 247.77 266.82 247.88 331.95 248 360.6 248.12 331.92 248.23 266.66 248.35 212.19 248.46 208.17 248.58 257.6 248.7 324.51 248.81 360.09 248.93 338.3 249.04 274.98 249.16 216.45 249.28 205.62 249.39 250.5 249.51 318.21 249.62 358.99 249.74 342.77 249.86 281.43 249.97 220.15 250.09 204.19 250.2 245.41 250.32 313.4 250.44 357.82 250.55 345.69 250.67 285.94 250.78 222.9 250.9 203.47 251.02 242.19 251.13 310.26 251.25 356.94 251.36 347.31 251.48 288.49 251.6 224.46 251.71 203.18 251.83 240.7 251.94 308.91 252.06 356.58 252.18 347.8 252.29 289.11 252.41 224.69 252.52 203.18 252.64 240.88 252.76 309.37 252.87 356.82 252.99 347.22 253.1 287.78 253.22 223.59 253.34 203.45 253.45 242.76 253.57 311.65 253.68 357.6 253.8 345.5 253.92 284.51 254.03 221.23 254.15 204.13 254.26 246.39 254.38 315.66 254.5 358.74 254.61 342.47 254.73 279.29 254.84 217.82 254.96 205.5 255.08 251.91 255.19 321.26 255.31 359.9 255.42 337.85 255.54 272.14 255.66 213.7 255.77 207.97 255.89 259.48 256 328.19 256.12 360.58 256.24 331.31 256.35 263.16 256.47 209.37 256.58 212.05 256.7 269.18 256.82 336.04 256.93 360.14 257.05 322.49 257.16 252.62 257.28 205.5 257.4 218.32 257.51 281.03 257.63 344.18 257.74 357.83 257.86 311.11 257.98 240.95 258.09 202.96 258.21 227.35 258.32 294.82 258.44 351.76 258.56 352.81 258.67 297.06 258.79 228.92 258.9 202.78 259.02 239.61 259.14 310.02 259.25 357.65 259.37 344.27 259.48 280.54 259.6 217.6 259.72 206.07 259.83 255.32 259.95 325.72 260.06 360.52 260.18 331.55 260.3 262.16 260.41 208.43 260.53 213.91 260.64 274.23 260.76 340.52 260.88 358.92 260.99 314.41 261.11 243.14 261.22 203.13 261.34 227.08 261.46 295.5 261.57 352.55 261.69 351.54 261.8 293.21 261.92 225.3 262.04 203.52 262.15 245.82 262.27 317.51 262.38 359.63 262.5 337.45 262.62 269.16 262.73 211.08 262.85 211.2 262.96 269.5 263.08 337.8 263.2 359.51 263.31 316.57 263.43 244.53 263.54 203.24 263.66 227.08 263.78 296.28 263.89 353.24 264.01 350.4 264.12 290.06 264.24 222.58 264.36 204.43 264.47 250.87 264.59 323.05 264.7 360.43 264.82 331.55 264.94 260.62 265.05 207.28 265.17 216.49 265.28 280.58 265.4 345.5 265.52 356.41 265.63 304 265.75 232.57 265.86 202.62 265.98 239.61 266.1 312.23 266.21 358.8 266.33 339.66 266.44 271.03 266.56 211.34 266.68 211.54 266.79 271.52 266.91 340.1 267.02 358.6 267.14 311.11 267.26 238.26 267.37 202.53 267.49 234.67 267.6 307.13 267.72 357.6 267.84 342.57 267.95 274.92 268.07 212.97 268.18 210.24 268.3 269.18 268.42 338.85 268.53 358.89 268.65 311.87 268.76 238.51 268.88 202.52 269 235.26 269.11 308.31 269.23 358.06 269.34 341.1 269.46 272.14 269.58 211.38 269.69 211.98 269.81 273.5 269.92 342.09 270.04 357.6 270.16 306.34 270.27 233.27 270.39 202.65 270.5 241.5 270.62 315.66 270.74 359.75 270.85 334.8 270.97 262.78 271.08 207.34 271.2 217.6 271.32 284.55 271.43 348.86 271.55 353.42 271.66 294.09 271.78 223.59 271.9 204.68 272.01 254.29 272.13 328.24 272.24 360.52 272.36 322.22 272.48 247.52 272.59 203.27 272.71 229.18 272.82 302.09 272.94 356.58 273.06 343.63 273.17 274.82 273.29 212.05 273.4 211.91 273.52 274.61 273.64 343.6 273.75 356.52 273.87 301.61 273.98 228.52 274.1 203.47 274.22 249.26 274.33 324.39 274.45 360.6 274.56 324.89 274.68 249.7 274.8 203.52 274.91 228.52 275.03 301.96 275.14 356.77 275.26 342.77 275.38 272.71 275.49 210.72 275.61 213.7 275.72 278.99 275.84 346.65 275.96 354.44 276.07 295.11 276.19 223.26 276.3 205.16 276.42 257.6 276.54 332.18 276.65 359.95 276.77 315.14 276.88 239.18 277 202.5 277.12 239.21 277.23 315.28 277.35 360 277.46 331.69 277.58 256.65 277.7 204.81 277.81 224.6 277.93 297.61 278.04 355.63 278.16 344.31 278.28 274.19 278.39 210.95 278.51 213.96 278.62 280.48 278.74 348.03 278.86 353.03 278.97 290.69 279.09 219.71 279.2 207.08 279.32 264.79 279.44 338.37 279.55 358.19 279.67 305.43 279.78 230.01 279.9 203.47 280.02 251.09 280.13 327.68 280.25 360.4 280.36 318.04 280.48 240.88 280.6 202.5 280.71 239.6 280.83 316.8 280.94 360.3 281.06 328.42 281.18 251.6 281.29 203.49 281.41 230.31 281.52 306.37 281.64 358.59 281.76 336.65 281.87 261.62 281.99 205.78 282.1 223.06 282.22 296.85 282.34 355.87 282.45 342.98 282.57 270.58 282.68 208.8 282.8 217.6 282.92 288.51 283.03 352.68 283.15 347.66 283.26 278.25 283.38 212.04 283.5 213.62 283.61 281.53 283.73 349.48 283.84 351 283.96 284.53 284.08 215.12 284.19 210.84 284.31 275.97 284.42 346.61 284.54 353.29 284.66 289.36 284.77 217.73 284.89 208.99 285 271.86 285.12 344.31 285.24 354.75 285.35 292.76 285.47 219.65 285.58 207.88 285.7 269.18 285.82 342.79 285.93 355.56 286.05 294.72 286.16 220.76 286.28 207.34 286.4 267.93 286.51 342.13 286.63 355.83 286.74 295.27 286.86 220.96 286.98 207.32 287.09 268.09 287.21 342.38 287.32 355.61 287.44 294.41 287.56 220.25 287.67 207.79 287.79 269.66 287.9 343.53 288.02 354.86 288.14 292.13 288.25 218.68 288.37 208.84 288.48 272.65 288.6 345.5 288.72 353.49 288.83 288.42 288.95 216.35 289.06 210.59 289.18 277.08 289.3 348.14 289.41 351.3 289.53 283.26 289.64 213.45 289.76 213.26 289.88 282.96 289.99 351.24 290.11 348.09 290.22 276.67 290.34 210.24 290.46 217.09 290.57 290.25 290.69 354.48 290.8 343.57 290.92 268.69 291.04 207.07 291.15 222.37 291.27 298.87 291.38 357.47 291.5 337.45 291.62 259.48 291.73 204.39 291.85 229.41 291.96 308.63 292.08 359.7 292.2 329.43 292.31 249.26 292.43 202.74 292.54 238.46 292.66 319.2 292.78 360.6 292.89 319.3 293.01 238.46 293.12 202.76 293.24 249.7 293.36 330.09 293.47 359.5 293.59 306.94 293.7 227.64 293.82 205.11 293.94 263.16 294.05 340.64 294.17 355.73 294.28 292.42 294.4 217.6 294.52 210.46 294.63 278.65 294.75 349.93 294.86 348.65 294.98 276.09 295.1 209.31 295.21 219.38 295.33 295.66 295.44 356.92 295.56 337.8 295.68 258.62 295.79 203.92 295.91 232.23 296.02 313.33 296.14 360.41 296.26 322.96 296.37 241.07 296.49 202.63 296.6 248.99 296.72 330.39 296.84 359.23 296.95 304.39 297.07 224.9 297.18 206.53 297.3 269.18 297.42 345.22 297.53 352.39 297.65 282.86 297.76 211.89 297.88 216.45 298 291.67 298.11 355.92 298.23 339.32 298.34 259.86 298.46 203.99 298.58 232.65 298.69 314.65 298.81 360.54 298.92 320.14 299.04 237.53 299.16 203.08 299.27 254.57 299.39 335.65 299.5 357.4 299.62 295.87 299.74 218.59 299.85 210.53 299.97 280.64 300.08 351.77 300.2 345.5 300.32 268.67 300.43 206.04 300.55 226.85 300.66 308.16 300.78 360.04 300.9 324.98 301.01 241.76 301.13 202.67 301.24 251.18 301.36 333.45 301.48 358.01 301.59 297.45 301.71 219.16 301.82 210.42 301.94 281.05 302.06 352.26 302.17 344.45 302.29 266.27 302.4 205.18 302.52 229.65 302.64 312.32 302.75 360.48 302.87 320 302.98 236.28 303.1 203.47 303.22 258.56 303.33 339.57 303.45 355.17 303.56 287.68 303.68 213.26 303.8 216.01 303.91 292.91 304.03 356.97 304.14 335.58 304.26 252.91 304.38 202.73 304.49 242.07 304.61 326.29 304.72 359.64 304.84 304.08 304.96 222.84 305.07 208.53 305.19 277.56 305.3 351.16 305.42 345.21 305.54 266.43 305.65 204.94 305.77 231.22 305.88 315.23 306 360.6 306.12 315.19 306.23 231.1 306.35 205.03 306.46 267.05 306.58 345.79 306.7 350.47 306.81 275.62 306.93 207.59 307.04 225.04 307.16 307.86 307.28 360.24 307.39 321.46 307.51 236.4 307.62 203.71 307.74 261.41 307.86 342.53 307.97 352.74 308.09 280.08 308.2 209.11 308.32 222.58 308.44 304.86 308.55 359.94 308.67 323.42 308.78 237.93 308.9 203.47 309.02 260.47 309.13 342.19 309.25 352.79 309.36 279.74 309.48 208.81 309.6 223.4 309.71 306.43 309.83 360.18 309.94 321.26 310.06 235.49 310.18 204.08 310.29 264.19 310.41 344.84 310.52 350.62 310.64 274.61 310.76 206.8 310.87 227.64 310.99 312.47 311.1 360.59 311.22 314.76 311.34 229.41 311.45 206.12 311.57 272.71 311.68 349.85 311.8 345.5 311.92 264.77 312.03 204.08 312.15 236.04 312.26 322.49 312.38 359.91 312.5 303.39 312.61 220.65 312.73 211.02 312.84 286.14 312.96 355.76 313.08 336.08 313.19 250.72 313.31 202.5 313.42 249.63 313.54 335.3 313.66 356.05 313.77 286.73 313.89 211.12 314 220.78 314.12 304.08 314.24 360.07 314.35 320.78 314.47 233.83 314.58 204.87 314.7 269.18 314.82 348.57 314.93 346.32 315.05 265.1 315.16 203.93 315.28 237.53 315.4 324.93 315.51 359.29 315.63 298.52 315.74 216.95 315.86 214.54 315.98 294.33 316.09 358.45 316.21 328.11 316.32 240.53 316.44 203.4 316.56 262.49 316.67 345.08 316.79 349.35 316.9 269.95 317.02 204.86 317.14 234.54 317.25 322.37 317.37 359.69 317.48 300.23 317.6 217.6 317.72 214.29 317.83 294.48 317.95 358.63 318.06 326.95 318.18 238.77 318.3 203.85 318.41 265.74 318.53 347.36 318.64 346.86 318.76 264.79 318.88 203.65 318.99 239.93 319.11 328.32 319.22 358.14 319.34 291.95 319.46 212.7 319.57 219.88 319.69 304.54 319.8 360.31 319.92 316.99 320.04 229.04 320.15 207.23 320.27 279.15 320.38 354.11 320.5 337.45 320.62 250.14 320.73 202.54 320.85 254.94 320.96 341.06 321.08 351.76 321.2 273.4 321.31 205.37 321.43 234.11 321.54 323.17 321.66 359.29 321.78 296.44 321.89 214.6 322.01 218.11 322.12 302.57 322.24 360.2 322.36 317.33 322.47 228.69 322.59 207.68 322.7 281.27 322.82 355.23 322.94 334.7 323.05 245.95 323.17 202.91 323.28 260.95 323.4 345.5 323.52 347.75 323.63 264.71 323.75 203.37 323.86 242.88 323.98 332.32 324.1 356.19 324.21 283.56 324.33 208.32 324.44 227.89 324.56 316.99 324.68 360.16 324.79 301.32 324.91 216.8 325.02 216.4 325.14 300.73 325.26 360.11 325.37 317.19 325.49 227.81 325.6 208.51 325.72 284.53 325.84 356.68 325.95 330.64 326.07 240.39 326.18 204 326.3 269.18 326.42 350.59 326.53 341.45 326.65 253.67 326.76 202.5 326.88 255.24 327 342.6 327.11 349.6 327.23 266.95 327.34 203.53 327.46 243.03 327.58 333.39 327.69 355.27 327.81 279.68 327.92 206.55 328.04 232.71 328.16 323.59 328.27 358.74 328.39 291.48 328.5 211.02 328.62 224.27 328.74 313.69 328.85 360.36 328.97 302.09 329.08 216.44 329.2 217.6 329.32 304.1 329.43 360.5 329.55 311.41 329.66 222.37 329.78 212.52 329.9 295.11 330.01 359.54 330.13 319.39 330.24 228.44 330.36 208.81 330.48 286.93 330.59 357.83 330.71 326.08 330.82 234.35 330.94 206.22 331.06 279.68 331.17 355.68 331.29 331.57 331.4 239.85 331.52 204.51 331.64 273.44 331.75 353.36 331.87 335.97 331.98 244.76 332.1 203.47 332.22 268.22 332.33 351.1 332.45 339.39 332.56 248.96 332.68 202.9 332.8 264.03 332.91 349.07 333.03 341.96 333.14 252.34 333.26 202.63 333.38 260.85 333.49 347.42 333.61 343.78 333.72 254.85 333.84 202.52 333.96 258.66 334.07 346.24 334.19 344.93 334.3 256.44 334.42 202.5 334.54 257.42 334.65 345.61 334.77 345.46 334.88 257.1 335 202.5" stroke-width="0.36"/></g>
<linearGradient id="egcT" x1="0" y1="0" x2="0" y2="1"><stop offset="0" stop-color="#fff" stop-opacity="0.4"/><stop offset="1" stop-color="#fff" stop-opacity="0"/></linearGradient><linearGradient id="egcB" x1="0" y1="1" x2="0" y2="0"><stop offset="0" stop-color="#fff" stop-opacity="0.4"/><stop offset="1" stop-color="#fff" stop-opacity="0"/></linearGradient><linearGradient id="egcH" x1="0" y1="0" x2="1" y2="0"><stop offset="0" stop-color="#000"/><stop offset="0.25" stop-color="#000"/><stop offset="0.5" stop-color="#fff"/><stop offset="0.9" stop-color="#fff"/><stop offset="1" stop-color="#888"/></linearGradient><mask id="egcM" maskContentUnits="objectBoundingBox"><rect width="1" height="1" fill="url(#egcH)"/></mask><rect x="45.5" y="203" width="289" height="28" fill="url(#egcT)" mask="url(#egcM)"/><rect x="45.5" y="332.1" width="289" height="28" fill="url(#egcB)" mask="url(#egcM)"/>
<path d="M45 242.03H335M45 281.55H335M45 321.08H335" fill="none" stroke="#f4f4f4" stroke-width="0.9" style="mix-blend-mode:multiply"/>
<path d="M45 360.6v3M56.6 360.6v2M68.2 360.6v2M79.8 360.6v2M91.4 360.6v2M103 360.6v3M114.6 360.6v2M126.2 360.6v2M137.8 360.6v2M149.4 360.6v2M161 360.6v3M172.6 360.6v2M184.2 360.6v2M195.8 360.6v2M207.4 360.6v2M219 360.6v3M230.6 360.6v2M242.2 360.6v2M253.8 360.6v2M265.4 360.6v2M277 360.6v3M288.6 360.6v2M300.2 360.6v2M311.8 360.6v2M323.4 360.6v2M335 360.6v3M45 360.6h-3M45 352.7h-2M45 344.79h-2M45 336.88h-2M45 328.98h-2M45 321.08h-3M45 313.17h-2M45 305.26h-2M45 297.36h-2M45 289.46h-2M45 281.55h-3M45 273.64h-2M45 265.74h-2M45 257.84h-2M45 249.93h-2M45 242.03h-3M45 234.12h-2M45 226.22h-2M45 218.31h-2M45 210.41h-2M45 202.5h-3" fill="none" stroke="#777" stroke-width="0.8"/>
<rect x="298.15" y="342.85" width="34.6" height="14.8" fill="#fff" stroke="#000" stroke-width="1.3"/><path d="M298.3 358.5H333.4" stroke="#000" stroke-width="0.9" stroke-opacity="0.8"/>
<path d="M446.02 202.3V360.7" stroke="#dcdcdc" stroke-width="0.9" stroke-opacity="1"/><path d="M504.34 202.3V360.7" stroke="#dcdcdc" stroke-width="0.9" stroke-opacity="0.6"/><path d="M562.66 202.3V360.7" stroke="#dcdcdc" stroke-width="0.9" stroke-opacity="0.3"/><path d="M620.98 202.3V360.7" stroke="#dcdcdc" stroke-width="0.9" stroke-opacity="0.15"/><path d="M387.7 241.9H679.3M387.7 281.5H679.3M387.7 321.1H679.3" fill="none" stroke="#dadada" stroke-width="0.9"/>
<rect x="387.7" y="202.3" width="291.6" height="158.4" fill="none" stroke="#666" stroke-width="1"/>
<g filter="url(#lin)" fill="none" stroke="#ff0000" stroke-linejoin="round"><path d="M387.7 202.3 387.77 202.3 387.85 202.3 387.92 202.3 387.99 202.3 388.06 202.3 388.14 202.3 388.21 202.3 388.28 202.3 388.36 202.3 388.43 202.3 388.5 202.31 388.57 202.31 388.65 202.31 388.72 202.31 388.79 202.32 388.87 202.33 388.94 202.33 389.01 202.34 389.09 202.35 389.16 202.36 389.23 202.37 389.3 202.39 389.38 202.41 389.45 202.43 389.52 202.45 389.6 202.47 389.67 202.5 389.74 202.53 389.81 202.57 389.89 202.61 389.96 202.65 390.03 202.7 390.11 202.75 390.18 202.81 390.25 202.87 390.32 202.94 390.4 203.01 390.47 203.09 390.54 203.18 390.62 203.28 390.69 203.38 390.76 203.48 390.83 203.6 390.91 203.73 390.98 203.86 391.05 204 391.13 204.16 391.2 204.32 391.27 204.49 391.34 204.67 391.42 204.87 391.49 205.07 391.56 205.29 391.64 205.52 391.71 205.77 391.78 206.02 391.86 206.29 391.93 206.58 392 206.88 392.07 207.2 392.15 207.53 392.22 207.87 392.29 208.24 392.37 208.62 392.44 209.02 392.51 209.43 392.58 209.87 392.66 210.32 392.73 210.8 392.8 211.29 392.88 211.8 392.95 212.34 393.02 212.89 393.09 213.47 393.17 214.07 393.24 214.7 393.31 215.34 393.39 216.01 393.46 216.71 393.53 217.43 393.6 218.17 393.68 218.94 393.75 219.73 393.82 220.55 393.9 221.4 393.97 222.28 394.04 223.18 394.12 224.11 394.19 225.06 394.26 226.05 394.33 227.06 394.41 228.11 394.48 229.18 394.55 230.28 394.63 231.41 394.7 232.57 394.77 233.75 394.84 234.97 394.92 236.22 394.99 237.5 395.06 238.81 395.14 240.14 395.21 241.51 395.28 242.91 395.35 244.34 395.43 245.79 395.5 247.28 395.57 248.79 395.65 250.34 395.72 251.91 395.79 253.51 395.86 255.14 395.94 256.8 396.01 258.48 396.08 260.19 396.16 261.92 396.23 263.68 396.3 265.47 396.38 267.28 396.45 269.11 396.52 270.96 396.59 272.84 396.67 274.74 396.74 276.65 396.81 278.58 396.89 280.54 396.96 282.5 397.03 284.49 397.1 286.48 397.18 288.49 397.25 290.51 397.32 292.54 397.4 294.57 397.47 296.62 397.54 298.66 397.61 300.71 397.69 302.77 397.76 304.82 397.83 306.87 397.91 308.91 397.98 310.95 398.05 312.98 398.12 315 398.2 317.01 398.27 319.01 398.34 320.98 398.42 322.94 398.49 324.88 398.56 326.79 398.63 328.68 398.71 330.54 398.78 332.37 398.85 334.16 398.93 335.92 399 337.64 399.07 339.32 399.15 340.96 399.22 342.54 399.29 344.09 399.36 345.57 399.44 347.01 399.51 348.39 399.58 349.71 399.66 350.96 399.73 352.16 399.8 353.28 399.87 354.34 399.95 355.32 400.02 356.23 400.09 357.06 400.17 357.81 400.24 358.48 400.31 359.07 400.38 359.57 400.46 359.98 400.53 360.3 400.6 360.53 400.68 360.66 400.75 360.7 400.82 360.64 400.89 360.48 400.97 360.22 401.04 359.86 401.11 359.39 401.19 358.82 401.26 358.14 401.33 357.36 401.41 356.47 401.48 355.47 401.55 354.37 401.62 353.16 401.7 351.84 401.77 350.41 401.84 348.88 401.92 347.24 401.99 345.5 402.06 343.65 402.13 341.7 402.21 339.65 402.28 337.5 402.35 335.26 402.43 332.91 402.5 330.48 402.57 327.95 402.64 325.34 402.72 322.64 402.79 319.87 402.86 317.01 402.94 314.08 403.01 311.09 403.08 308.03 403.15 304.91 403.23 301.73 403.3 298.5 403.37 295.23 403.45 291.92 403.52 288.57 403.59 285.2 403.67 281.8 403.74 278.39 403.81 274.97 403.88 271.54 403.96 268.12 404.03 264.71 404.1 261.31 404.18 257.94 404.25 254.61 404.32 251.31 404.39 248.05 404.47 244.85 404.54 241.71 404.61 238.64 404.69 235.65 404.76 232.74 404.83 229.92 404.9 227.19 404.98 224.58 405.05 222.07 405.12 219.69 405.2 217.43 405.27 215.3 405.34 213.31 405.41 211.47 405.49 209.78 405.56 208.25 405.63 206.89 405.71 205.69 405.78 204.67 405.85 203.82 405.93 203.16 406 202.68 406.07 202.39 406.14 202.3 406.22 202.4 406.29 202.7 406.36 203.2 406.44 203.9 406.51 204.8 406.58 205.9 406.65 207.2 406.73 208.69 406.8 210.39 406.87 212.28 406.95 214.36 407.02 216.64 407.09 219.09 407.16 221.73 407.24 224.54 407.31 227.52 407.38 230.66 407.46 233.95 407.53 237.4 407.6 240.98 407.67 244.69 407.75 248.52 407.82 252.46 407.89 256.5 407.97 260.63 408.04 264.84 408.11 269.11 408.18 273.44 408.26 277.8 408.33 282.19 408.4 286.6 408.48 291 408.55 295.39 408.62 299.75 408.7 304.07 408.77 308.34 408.84 312.53 408.91 316.63 408.99 320.63 409.06 324.52 409.13 328.28 409.21 331.89 409.28 335.35 409.35 338.64 409.42 341.74 409.5 344.65 409.57 347.35 409.64 349.83 409.72 352.08 409.79 354.09 409.86 355.85 409.93 357.35 410.01 358.58 410.08 359.53 410.15 360.21 410.23 360.6 410.3 360.7 410.37 360.5 410.44 360.01 410.52 359.22 410.59 358.14 410.66 356.76 410.74 355.09 410.81 353.13 410.88 350.89 410.96 348.37 411.03 345.57 411.1 342.52 411.17 339.21 411.25 335.67 411.32 331.89 411.39 327.9 411.47 323.7 411.54 319.32 411.61 314.77 411.68 310.07 411.76 305.23 411.83 300.28 411.9 295.24 411.98 290.12 412.05 284.95 412.12 279.75 412.19 274.54 412.27 269.35 412.34 264.19 412.41 259.1 412.49 254.09 412.56 249.18 412.63 244.41 412.7 239.79 412.78 235.35 412.85 231.11 412.92 227.08 413 223.29 413.07 219.77 413.14 216.52 413.21 213.57 413.29 210.93 413.36 208.62 413.43 206.65 413.51 205.03 413.58 203.78 413.65 202.91 413.73 202.42 413.8 202.31 413.87 202.6 413.94 203.28 414.02 204.35 414.09 205.81 414.16 207.66 414.24 209.89 414.31 212.49 414.38 215.46 414.45 218.77 414.53 222.42 414.6 226.39 414.67 230.66 414.75 235.21 414.82 240.01 414.89 245.05 414.96 250.3 415.04 255.74 415.11 261.32 415.18 267.03 415.26 272.84 415.33 278.71 415.4 284.61 415.47 290.51 415.55 296.37 415.62 302.17 415.69 307.86 415.77 313.42 415.84 318.81 415.91 324 415.99 328.95 416.06 333.65 416.13 338.05 416.2 342.13 416.28 345.87 416.35 349.23 416.42 352.19 416.5 354.75 416.57 356.86 416.64 358.53 416.71 359.73 416.79 360.46 416.86 360.7 416.93 360.46 417.01 359.72 417.08 358.5 417.15 356.79 417.22 354.6 417.3 351.94 417.37 348.83 417.44 345.28 417.52 341.31 417.59 336.95 417.66 332.22 417.73 327.14 417.81 321.76 417.88 316.09 417.95 310.18 418.03 304.07 418.1 297.8 418.17 291.4 418.25 284.91 418.32 278.39 418.39 271.87 418.46 265.41 418.54 259.04 418.61 252.81 418.68 246.76 418.76 240.94 418.83 235.4 418.9 230.16 418.97 225.27 419.05 220.77 419.12 216.7 419.19 213.08 419.27 209.94 419.34 207.31 419.41 205.22 419.48 203.68 419.56 202.71 419.63 202.31 419.7 202.5 419.78 203.28 419.85 204.64 419.92 206.58 419.99 209.09 420.07 212.16 420.14 215.76 420.21 219.87 420.29 224.46 420.36 229.5 420.43 234.95 420.5 240.78 420.58 246.94 420.65 253.39 420.72 260.07 420.8 266.93 420.87 273.93 420.94 281 421.02 288.09 421.09 295.15 421.16 302.11 421.23 308.91 421.31 315.51 421.38 321.84 421.45 327.86 421.53 333.5 421.6 338.73 421.67 343.48 421.74 347.73 421.82 351.44 421.89 354.55 421.96 357.06 422.04 358.93 422.11 360.14 422.18 360.67 422.25 360.53 422.33 359.69 422.4 358.18 422.47 355.99 422.55 353.15 422.62 349.67 422.69 345.57 422.76 340.9 422.84 335.69 422.91 329.99 422.98 323.83 423.06 317.28 423.13 310.4 423.2 303.23 423.28 295.85 423.35 288.33 423.42 280.72 423.49 273.11 423.57 265.56 423.64 258.15 423.71 250.93 423.79 243.99 423.86 237.4 423.93 231.2 424 225.48 424.08 220.27 424.15 215.65 424.22 211.65 424.3 208.32 424.37 205.69 424.44 203.8 424.51 202.66 424.59 202.3 424.66 202.72 424.73 203.92 424.81 205.9 424.88 208.63 424.95 212.1 425.02 216.28 425.1 221.12 425.17 226.59 425.24 232.62 425.32 239.17 425.39 246.16 425.46 253.53 425.54 261.21 425.61 269.11 425.68 277.16 425.75 285.26 425.83 293.34 425.9 301.32 425.97 309.09 426.05 316.59 426.12 323.73 426.19 330.43 426.26 336.62 426.34 342.23 426.41 347.18 426.48 351.44 426.56 354.93 426.63 357.63 426.7 359.5 426.77 360.51 426.85 360.65 426.92 359.91 426.99 358.29 427.07 355.8 427.14 352.48 427.21 348.35 427.28 343.46 427.36 337.85 427.43 331.59 427.5 324.75 427.58 317.39 427.65 309.61 427.72 301.49 427.79 293.12 427.87 284.6 427.94 276.03 428.01 267.51 428.09 259.14 428.16 251.01 428.23 243.24 428.31 235.9 428.38 229.1 428.45 222.92 428.52 217.43 428.6 212.7 428.67 208.8 428.74 205.78 428.82 203.68 428.89 202.53 428.96 202.35 429.03 203.14 429.11 204.91 429.18 207.64 429.25 211.29 429.33 215.83 429.4 221.2 429.47 227.33 429.54 234.17 429.62 241.62 429.69 249.59 429.76 257.98 429.84 266.69 429.91 275.6 429.98 284.61 430.05 293.59 430.13 302.43 430.2 311.01 430.27 319.22 430.35 326.94 430.42 334.09 430.49 340.54 430.57 346.23 430.64 351.06 430.71 354.97 430.78 357.89 430.86 359.8 430.93 360.65 431 360.43 431.08 359.14 431.15 356.79 431.22 353.4 431.29 349.01 431.37 343.69 431.44 337.5 431.51 330.53 431.59 322.86 431.66 314.59 431.73 305.86 431.8 296.76 431.88 287.43 431.95 278.01 432.02 268.62 432.1 259.4 432.17 250.47 432.24 241.98 432.31 234.05 432.39 226.78 432.46 220.3 432.53 214.69 432.61 210.05 432.68 206.45 432.75 203.94 432.83 202.57 432.9 202.36 432.97 203.33 433.04 205.45 433.12 208.72 433.19 213.08 433.26 218.47 433.34 224.82 433.41 232.04 433.48 240.01 433.55 248.63 433.63 257.77 433.7 267.28 433.77 277.02 433.85 286.85 433.92 296.62 433.99 306.16 434.06 315.33 434.14 324 434.21 332.01 434.28 339.24 434.36 345.57 434.43 350.91 434.5 355.15 434.57 358.23 434.65 360.09 434.72 360.7 434.79 360.04 434.87 358.12 434.94 354.95 435.01 350.6 435.08 345.11 435.16 338.59 435.23 331.12 435.3 322.82 435.38 313.84 435.45 304.3 435.52 294.38 435.6 284.23 435.67 274.02 435.74 263.91 435.81 254.09 435.89 244.71 435.96 235.93 436.03 227.92 436.11 220.79 436.18 214.69 436.25 209.72 436.32 205.97 436.4 203.5 436.47 202.37 436.54 202.61 436.62 204.21 436.69 207.15 436.76 211.39 436.83 216.86 436.91 223.47 436.98 231.11 437.05 239.65 437.13 248.94 437.2 258.81 437.27 269.11 437.34 279.64 437.42 290.22 437.49 300.66 437.56 310.77 437.64 320.37 437.71 329.28 437.78 337.33 437.86 344.38 437.93 350.3 438 354.97 438.07 358.29 438.15 360.21 438.22 360.68 438.29 359.68 438.37 357.23 438.44 353.37 438.51 348.17 438.58 341.7 438.66 334.1 438.73 325.5 438.8 316.06 438.88 305.94 438.95 295.35 439.02 284.49 439.09 273.54 439.17 262.74 439.24 252.28 439.31 242.37 439.39 233.2 439.46 224.95 439.53 217.79 439.6 211.86 439.68 207.28 439.75 204.15 439.82 202.53 439.9 202.46 439.97 203.96 440.04 206.99 440.12 211.51 440.19 217.43 440.26 224.63 440.33 232.98 440.41 242.32 440.48 252.46 440.55 263.2 440.63 274.33 440.7 285.61 440.77 296.83 440.84 307.75 440.92 318.15 440.99 327.81 441.06 336.53 441.14 344.12 441.21 350.43 441.28 355.32 441.35 358.68 441.43 360.44 441.5 360.54 441.57 358.99 441.65 355.8 441.72 351.05 441.79 344.82 441.86 337.23 441.94 328.45 442.01 318.66 442.08 308.06 442.16 296.88 442.23 285.36 442.3 273.73 442.38 262.26 442.45 251.18 442.52 240.76 442.59 231.2 442.67 222.73 442.74 215.54 442.81 209.78 442.89 205.6 442.96 203.09 443.03 202.3 443.1 203.28 443.18 205.99 443.25 210.39 443.32 216.39 443.4 223.85 443.47 232.62 443.54 242.5 443.61 253.28 443.69 264.71 443.76 276.53 443.83 288.49 443.91 300.3 443.98 311.69 444.05 322.41 444.12 332.2 444.2 340.83 444.27 348.1 444.34 353.84 444.42 357.9 444.49 360.19 444.56 360.64 444.63 359.24 444.71 356.01 444.78 351.02 444.85 344.38 444.93 336.25 445 326.81 445.07 316.28 445.15 304.91 445.22 292.96 445.29 280.72 445.36 268.49 445.44 256.55 445.51 245.2 445.58 234.72 445.66 225.36 445.73 217.35 445.8 210.9 445.87 206.17 445.95 203.27 446.02 202.3 446.09 203.28 446.17 206.19 446.24 210.96 446.31 217.5 446.38 225.63 446.46 235.17 446.53 245.88 446.6 257.5 446.68 269.73 446.75 282.28 446.82 294.82 446.89 307.04 446.97 318.62 447.04 329.28 447.11 338.73 447.19 346.72 447.26 353.06 447.33 357.56 447.41 360.11 447.48 360.64 447.55 359.12 447.62 355.58 447.7 350.11 447.77 342.84 447.84 333.96 447.92 323.7 447.99 312.32 448.06 300.11 448.13 287.4 448.21 274.51 448.28 261.8 448.35 249.59 448.43 238.22 448.5 227.99 448.57 219.18 448.64 212.04 448.72 206.75 448.79 203.47 448.86 202.3 448.94 203.28 449.01 206.37 449.08 211.52 449.15 218.58 449.23 227.37 449.3 237.66 449.37 249.16 449.45 261.57 449.52 274.54 449.59 287.72 449.66 300.74 449.74 313.25 449.81 324.88 449.88 335.31 449.96 344.25 450.03 351.44 450.1 356.67 450.18 359.78 450.25 360.69 450.32 359.35 450.39 355.8 450.47 350.14 450.54 342.5 450.61 333.12 450.69 322.24 450.76 310.18 450.83 297.29 450.9 283.92 450.98 270.46 451.05 257.31 451.12 244.85 451.2 233.44 451.27 223.43 451.34 215.1 451.41 208.7 451.49 204.44 451.56 202.45 451.63 202.79 451.71 205.45 451.78 210.38 451.85 217.43 451.92 226.39 452 237.01 452.07 248.97 452.14 261.92 452.22 275.48 452.29 289.23 452.36 302.77 452.44 315.67 452.51 327.55 452.58 338.05 452.65 346.83 452.73 353.63 452.8 358.23 452.87 360.48 452.95 360.3 453.02 357.69 453.09 352.73 453.16 345.56 453.24 336.39 453.31 325.5 453.38 313.23 453.46 299.96 453.53 286.09 453.6 272.07 453.67 258.32 453.75 245.29 453.82 233.4 453.89 223.01 453.97 214.46 454.04 208.03 454.11 203.94 454.18 202.33 454.26 203.24 454.33 206.66 454.4 212.49 454.48 220.55 454.55 230.59 454.62 242.29 454.7 255.27 454.77 269.11 454.84 283.37 454.91 297.59 454.99 311.3 455.06 324.04 455.13 335.4 455.21 345 455.28 352.52 455.35 357.69 455.42 360.35 455.5 360.39 455.57 357.81 455.64 352.68 455.72 345.16 455.79 335.51 455.86 324.04 455.93 311.12 456.01 297.19 456.08 282.71 456.15 268.18 456.23 254.09 456.3 240.91 456.37 229.1 456.44 219.07 456.52 211.16 456.59 205.65 456.66 202.75 456.74 202.55 456.81 205.07 456.88 210.24 456.95 217.89 457.03 227.74 457.1 239.48 457.17 252.7 457.25 266.93 457.32 281.69 457.39 296.46 457.47 310.72 457.54 323.96 457.61 335.72 457.68 345.57 457.76 353.17 457.83 358.22 457.9 360.55 457.98 360.06 458.05 356.76 458.12 350.77 458.19 342.28 458.27 331.6 458.34 319.1 458.41 305.23 458.49 290.49 458.56 275.41 458.63 260.53 458.7 246.41 458.78 233.54 458.85 222.42 458.92 213.45 459 206.97 459.07 203.23 459.14 202.36 459.21 204.42 459.29 209.33 459.36 216.92 459.43 226.92 459.51 238.96 459.58 252.6 459.65 267.34 459.73 282.62 459.8 297.87 459.87 312.53 459.94 326.02 460.02 337.85 460.09 347.56 460.16 354.78 460.24 359.22 460.31 360.7 460.38 359.16 460.45 354.66 460.53 347.35 460.6 337.5 460.67 325.49 460.75 311.78 460.82 296.88 460.89 281.38 460.96 265.86 461.04 250.93 461.11 237.18 461.18 225.15 461.26 215.3 461.33 208.03 461.4 203.64 461.47 202.31 461.55 204.09 461.62 208.93 461.69 216.64 461.77 226.92 461.84 239.38 461.91 253.53 461.99 268.81 462.06 284.61 462.13 300.3 462.2 315.25 462.28 328.86 462.35 340.58 462.42 349.93 462.5 356.52 462.57 360.08 462.64 360.47 462.71 357.64 462.79 351.71 462.86 342.91 462.93 331.6 463.01 318.22 463.08 303.33 463.15 287.52 463.22 271.45 463.3 255.78 463.37 241.16 463.44 228.19 463.52 217.43 463.59 209.31 463.66 204.2 463.73 202.31 463.81 203.73 463.88 208.4 463.95 216.15 464.03 226.66 464.1 239.48 464.17 254.09 464.25 269.88 464.32 286.17 464.39 302.28 464.46 317.52 464.54 331.24 464.61 342.85 464.68 351.84 464.76 357.83 464.83 360.55 464.9 359.86 464.97 355.8 465.05 348.53 465.12 338.35 465.19 325.7 465.27 311.12 465.34 295.23 465.41 278.73 465.48 262.34 465.56 246.77 465.63 232.71 465.7 220.77 465.78 211.5 465.85 205.31 465.92 202.47 465.99 203.13 466.07 207.26 466.14 214.7 466.21 225.11 466.29 238.04 466.36 252.93 466.43 269.11 466.5 285.86 466.58 302.43 466.65 318.07 466.72 332.08 466.8 343.82 466.87 352.75 466.94 358.46 467.02 360.67 467.09 359.3 467.16 354.37 467.23 346.11 467.31 334.89 467.38 321.22 467.45 305.71 467.53 289.07 467.6 272.07 467.67 255.49 467.74 240.09 467.82 226.6 467.89 215.65 467.96 207.74 468.04 203.27 468.11 202.44 468.18 205.31 468.25 211.74 468.33 221.46 468.4 234 468.47 248.79 468.55 265.14 468.62 282.28 468.69 299.39 468.76 315.67 468.84 330.34 468.91 342.7 468.98 352.16 469.06 358.24 469.13 360.66 469.2 359.29 469.28 354.18 469.35 345.57 469.42 333.87 469.49 319.63 469.57 303.53 469.64 286.35 469.71 268.92 469.79 252.08 469.86 236.67 469.93 223.43 470 213.01 470.08 205.94 470.15 202.57 470.22 203.07 470.3 207.44 470.37 215.46 470.44 226.75 470.51 240.76 470.59 256.8 470.66 274.08 470.73 291.74 470.81 308.91 470.88 324.73 470.95 338.4 471.02 349.23 471.1 356.67 471.17 360.34 471.24 360.04 471.32 355.78 471.39 347.76 471.46 336.39 471.53 322.22 471.61 305.97 471.68 288.46 471.75 270.58 471.83 253.24 471.9 237.34 471.97 223.68 472.05 212.98 472.12 205.79 472.19 202.5 472.26 203.28 472.34 208.1 472.41 216.72 472.48 228.71 472.56 243.45 472.63 260.19 472.7 278.05 472.77 296.1 472.85 313.41 472.92 329.06 472.99 342.23 473.07 352.21 473.14 358.48 473.21 360.7 473.28 358.73 473.36 352.68 473.43 342.84 473.5 329.74 473.58 314.06 473.65 296.64 473.72 278.39 473.79 260.29 473.87 243.32 473.94 228.38 474.01 216.28 474.09 207.68 474.16 203.05 474.23 202.66 474.31 206.53 474.38 214.47 474.45 226.05 474.52 240.66 474.6 257.5 474.67 275.67 474.74 294.17 474.82 311.99 474.89 328.15 474.96 341.77 475.03 352.08 475.11 358.51 475.18 360.7 475.25 358.51 475.33 352.05 475.4 341.68 475.47 327.95 475.54 311.63 475.62 293.61 475.69 274.91 475.76 256.55 475.84 239.58 475.91 224.95 475.98 213.48 476.05 205.84 476.13 202.45 476.2 203.53 476.27 209.02 476.35 218.62 476.42 231.79 476.49 247.81 476.57 265.75 476.64 284.61 476.71 303.3 476.78 320.77 476.86 335.99 476.93 348.1 477 356.39 477.08 360.37 477.15 359.81 477.22 354.72 477.29 345.39 477.37 332.34 477.44 316.34 477.51 298.29 477.59 279.25 477.66 260.33 477.73 242.63 477.8 227.19 477.88 214.93 477.95 206.56 478.02 202.59 478.1 203.28 478.17 208.57 478.24 218.18 478.31 231.55 478.39 247.89 478.46 266.24 478.53 285.51 478.61 304.56 478.68 322.24 478.75 337.51 478.82 349.43 478.9 357.29 478.97 360.61 479.04 359.16 479.12 353.04 479.19 342.6 479.26 328.45 479.34 311.46 479.41 292.63 479.48 273.11 479.55 254.09 479.63 236.72 479.7 222.07 479.77 211.04 479.85 204.32 479.92 202.32 479.99 205.18 480.06 212.74 480.14 224.54 480.21 239.86 480.28 257.77 480.36 277.16 480.43 296.83 480.5 315.57 480.57 332.2 480.65 345.69 480.72 355.18 480.79 360.08 480.87 360.07 480.94 355.14 481.01 345.57 481.08 331.98 481.16 315.19 481.23 296.27 481.3 276.4 481.38 256.84 481.45 238.83 481.52 223.51 481.6 211.86 481.67 204.63 481.74 202.3 481.81 205.03 481.89 212.64 481.96 224.67 482.03 240.36 482.11 258.7 482.18 278.51 482.25 298.54 482.32 317.48 482.4 334.11 482.47 347.35 482.54 356.33 482.62 360.46 482.69 359.45 482.76 353.37 482.83 342.6 482.91 327.83 482.98 310.01 483.05 290.31 483.13 270.03 483.2 250.47 483.27 232.95 483.34 218.62 483.42 208.42 483.49 203.05 483.56 202.87 483.64 207.91 483.71 217.84 483.78 232.01 483.86 249.48 483.93 269.11 484 289.58 484.07 309.52 484.15 327.6 484.22 342.6 484.29 353.51 484.37 359.57 484.44 360.37 484.51 355.85 484.58 346.29 484.66 332.34 484.73 314.93 484.8 295.24 484.88 274.6 484.95 254.41 485.02 236.06 485.09 220.79 485.17 209.68 485.24 203.47 485.31 202.62 485.39 207.2 485.46 216.89 485.53 231.04 485.6 248.69 485.68 268.62 485.75 289.46 485.82 309.76 485.9 328.11 485.97 343.23 486.04 354.07 486.12 359.84 486.19 360.15 486.26 354.95 486.33 344.61 486.41 329.82 486.48 311.63 486.55 291.3 486.63 270.27 486.7 250.02 486.77 231.97 486.84 217.43 486.92 207.41 486.99 202.65 487.06 203.49 487.14 209.89 487.21 221.4 487.28 237.21 487.35 256.21 487.43 277.02 487.5 298.18 487.57 318.15 487.65 335.49 487.72 348.96 487.79 357.57 487.86 360.69 487.94 358.08 488.01 349.92 488.08 336.79 488.16 319.63 488.23 299.68 488.3 278.39 488.37 257.31 488.45 237.99 488.52 221.84 488.59 210.05 488.67 203.5 488.74 202.68 488.81 207.66 488.89 218.09 488.96 233.21 489.03 251.91 489.1 272.82 489.18 294.38 489.25 315 489.32 333.15 489.4 347.46 489.47 356.86 489.54 360.64 489.61 358.5 489.69 350.6 489.76 337.5 489.83 320.19 489.91 299.96 489.98 278.32 490.05 256.91 490.12 237.34 490.2 221.09 490.27 209.42 490.34 203.2 490.42 202.93 490.49 208.63 490.56 219.89 490.63 235.86 490.71 255.32 490.78 276.81 490.85 298.66 490.93 319.22 491 336.89 491.07 350.31 491.15 358.44 491.22 360.64 491.29 356.72 491.36 346.99 491.44 332.17 491.51 313.41 491.58 292.16 491.66 270.06 491.73 248.84 491.8 230.16 491.87 215.47 491.95 205.94 492.02 202.32 492.09 204.91 492.17 213.52 492.24 227.49 492.31 245.72 492.38 266.78 492.46 289.02 492.53 310.68 492.6 330.05 492.68 345.57 492.75 356.02 492.82 360.55 492.89 358.78 492.97 350.84 493.04 337.37 493.11 319.41 493.19 298.4 493.26 276.03 493.33 254.08 493.4 234.32 493.48 218.35 493.55 207.46 493.62 202.54 493.7 204 493.77 211.74 493.84 225.15 493.92 243.13 493.99 264.25 494.06 286.79 494.13 308.91 494.21 328.81 494.28 344.85 494.35 355.72 494.43 360.51 494.5 358.82 494.57 350.77 494.64 337.01 494.72 318.67 494.79 297.25 494.86 274.51 494.94 252.34 495.01 232.57 495.08 216.84 495.15 206.48 495.23 202.35 495.3 204.82 495.37 213.68 495.45 228.22 495.52 247.22 495.59 269.11 495.66 292.05 495.74 314.12 495.81 333.46 495.88 348.44 495.96 357.78 496.03 360.69 496.1 356.9 496.18 346.72 496.25 331.01 496.32 311.09 496.39 288.64 496.47 265.56 496.54 243.83 496.61 225.3 496.69 211.56 496.76 203.8 496.83 202.69 496.9 208.34 496.98 220.28 497.05 237.5 497.12 258.52 497.2 281.53 497.27 304.56 497.34 325.6 497.41 342.85 497.49 354.78 497.56 360.36 497.63 359.08 497.71 351.05 497.78 336.95 497.85 318 497.92 295.85 498 272.43 498.07 249.79 498.14 229.92 498.22 214.56 498.29 205.09 498.36 202.34 498.44 206.57 498.51 217.43 498.58 233.95 498.65 254.7 498.73 277.84 498.8 301.32 498.87 323.05 498.95 341.09 499.02 353.84 499.09 360.14 499.16 359.41 499.24 351.71 499.31 337.72 499.38 318.67 499.46 296.27 499.53 272.53 499.6 249.58 499.67 229.5 499.75 214.1 499.82 204.78 499.89 202.4 499.97 207.2 500.04 218.73 500.11 235.99 500.18 257.39 500.26 281 500.33 304.68 500.4 326.25 500.48 343.74 500.55 355.54 500.62 360.56 500.69 358.33 500.77 349.03 500.84 333.5 500.91 313.18 500.99 289.91 501.06 265.86 501.13 243.24 501.21 224.14 501.28 210.36 501.35 203.18 501.42 203.28 501.5 210.66 501.57 224.65 501.64 243.95 501.72 266.78 501.79 291 501.86 314.35 501.93 334.62 502.01 349.92 502.08 358.79 502.15 360.39 502.23 354.55 502.3 341.8 502.37 323.35 502.44 300.92 502.52 276.64 502.59 252.81 502.66 231.68 502.74 215.29 502.81 205.19 502.88 202.36 502.95 207.09 503.03 218.94 503.1 236.78 503.17 258.93 503.25 283.25 503.32 307.42 503.39 329.11 503.47 346.23 503.54 357.11 503.61 360.7 503.68 356.63 503.76 345.28 503.83 327.74 503.9 305.71 503.98 281.31 504.05 256.91 504.12 234.89 504.19 217.41 504.27 206.17 504.34 202.3 504.41 206.18 504.49 217.44 504.56 235 504.63 257.14 504.7 281.69 504.78 306.24 504.85 328.36 504.92 345.87 505 357.02 505.07 360.7 505.14 356.53 505.21 344.91 505.29 326.98 505.36 304.52 505.43 279.75 505.51 255.14 505.58 233.15 505.65 215.98 505.73 205.36 505.8 202.36 505.87 207.31 505.94 219.71 506.02 238.34 506.09 261.32 506.16 286.36 506.24 310.92 506.31 332.52 506.38 348.96 506.45 358.59 506.53 360.39 506.6 354.18 506.67 340.58 506.75 320.95 506.82 297.29 506.89 272 506.96 247.67 507.04 226.78 507.11 211.49 507.18 203.37 507.26 203.28 507.33 211.22 507.4 226.41 507.47 247.28 507.55 271.7 507.62 297.14 507.69 320.98 507.77 340.75 507.84 354.38 507.91 360.46 507.98 358.33 508.06 348.2 508.13 331.12 508.2 308.85 508.28 283.71 508.35 258.32 508.42 235.35 508.5 217.2 508.57 205.79 508.64 202.33 508.71 207.2 508.79 219.89 508.86 239.09 508.93 262.78 509.01 288.46 509.08 313.42 509.15 335.01 509.22 350.94 509.3 359.5 509.37 359.77 509.44 351.71 509.52 336.16 509.59 314.77 509.66 289.81 509.73 263.95 509.81 239.95 509.88 220.4 509.95 207.39 510.03 202.34 510.1 205.8 510.17 217.43 510.24 235.97 510.32 259.43 510.39 285.3 510.46 310.77 510.54 333.08 510.61 349.81 510.68 359.13 510.76 360.01 510.83 352.34 510.9 336.95 510.97 315.5 511.05 290.31 511.12 264.15 511.19 239.88 511.27 220.15 511.34 207.15 511.41 202.31 511.48 206.19 511.56 218.36 511.63 237.5 511.7 261.51 511.78 287.74 511.85 313.3 511.92 335.35 511.99 351.44 512.07 359.77 512.14 359.4 512.21 350.36 512.29 333.64 512.36 311.09 512.43 285.22 512.5 258.93 512.58 235.14 512.65 216.54 512.72 205.22 512.8 202.46 512.87 208.6 512.94 222.94 513.02 243.9 513.09 269.11 513.16 295.74 513.23 320.77 513.31 341.36 513.38 355.18 513.45 360.65 513.53 357.12 513.6 344.98 513.67 325.6 513.74 301.19 513.82 274.51 513.89 248.62 513.96 226.47 514.04 210.62 514.11 202.89 514.18 204.18 514.25 214.36 514.33 232.28 514.4 255.88 514.47 282.44 514.55 308.91 514.62 332.23 514.69 349.69 514.76 359.25 514.84 359.8 514.91 351.26 514.98 334.6 515.06 311.74 515.13 285.36 515.2 258.5 515.27 234.32 515.35 215.64 515.42 204.67 515.49 202.69 515.57 209.96 515.64 225.63 515.71 247.89 515.79 274.12 515.86 301.23 515.93 326.02 516 345.57 516.08 357.56 516.15 360.54 516.22 354.16 516.3 339.15 516.37 317.28 516.44 291.15 516.51 263.85 516.59 238.64 516.66 218.54 516.73 205.94 516.81 202.37 516.88 208.28 516.95 222.97 517.02 244.69 517.1 270.84 517.17 298.29 517.24 323.73 517.32 344.1 517.39 356.92 517.46 360.64 517.53 354.79 517.61 340.06 517.68 318.22 517.75 291.92 517.83 264.34 517.9 238.83 517.97 218.5 518.05 205.84 518.12 202.4 518.19 208.63 518.26 223.77 518.34 245.99 518.41 272.57 518.48 300.26 518.56 325.66 518.63 345.65 518.7 357.75 518.77 360.45 518.85 353.42 518.92 337.5 518.99 314.65 519.07 287.68 519.14 259.93 519.21 234.85 519.28 215.54 519.36 204.42 519.43 202.89 519.5 211.16 519.58 228.2 519.65 251.91 519.72 279.33 519.79 307.04 519.87 331.56 519.94 349.81 520.01 359.5 520.09 359.39 520.16 349.48 520.23 330.99 520.31 306.26 520.38 278.39 520.45 250.9 520.52 227.26 520.6 210.48 520.67 202.7 520.74 204.92 520.82 216.86 520.89 237.04 520.96 262.89 521.03 291.13 521.11 318.15 521.18 340.5 521.25 355.32 521.33 360.7 521.4 355.92 521.47 341.6 521.54 319.55 521.62 292.59 521.69 264.19 521.76 238.01 521.84 217.43 521.91 205.11 521.98 202.65 522.05 210.41 522.13 227.37 522.2 251.37 522.27 279.29 522.35 307.51 522.42 332.37 522.49 350.61 522.56 359.84 522.64 358.86 522.71 347.76 522.78 328 522.86 302.13 522.93 273.54 523 245.99 523.08 223.08 523.15 207.85 523.22 202.31 523.29 207.2 523.37 221.89 523.44 244.47 523.51 271.95 523.59 300.71 523.66 326.94 523.73 347.16 523.8 358.67 523.88 359.93 523.95 350.75 524.02 332.34 524.1 307.15 524.17 278.51 524.24 250.27 524.31 226.18 524.39 209.49 524.46 202.45 524.53 206.01 524.61 219.71 524.68 241.73 524.75 269.11 524.82 298.18 524.9 325.01 524.97 345.98 525.04 358.24 525.12 360.13 525.19 351.36 525.26 333.12 525.34 307.86 525.41 279 525.48 250.47 525.55 226.16 525.63 209.37 525.7 202.42 525.77 206.26 525.85 220.4 525.92 242.91 525.99 270.72 526.06 300.02 526.14 326.79 526.21 347.35 526.28 358.86 526.36 359.72 526.43 349.79 526.5 330.43 526.57 304.3 526.65 275.01 526.72 246.59 526.79 223.01 526.87 207.52 526.94 202.3 527.01 208.1 527.08 224.11 527.16 248.12 527.23 276.81 527.3 306.16 527.38 332.08 527.45 350.94 527.52 360.08 527.6 358.21 527.67 345.57 527.74 323.93 527.81 296.31 527.89 266.59 527.96 238.96 528.03 217.31 528.11 204.72 528.18 202.97 528.25 212.34 528.32 231.5 528.4 257.77 528.47 287.41 528.54 316.23 528.62 340.13 528.69 355.69 528.76 360.68 528.83 354.38 528.91 337.67 528.98 312.93 529.05 283.67 529.13 254.09 529.2 228.42 529.27 210.36 529.34 202.52 529.42 206.02 529.49 220.4 529.56 243.59 529.64 272.26 529.71 302.28 529.78 329.31 529.86 349.43 529.93 359.73 530 358.68 530.07 346.44 530.15 324.75 530.22 296.76 530.29 266.54 530.37 238.48 530.44 216.68 530.51 204.34 530.58 203.28 530.66 213.65 530.73 233.97 530.8 261.27 530.88 291.55 530.95 320.37 531.02 343.48 531.09 357.49 531.17 360.3 531.24 351.49 531.31 332.34 531.39 305.67 531.46 275.41 531.53 246.04 531.6 221.91 531.68 206.61 531.75 202.43 531.82 210 531.9 228.22 531.97 254.39 532.04 284.61 532.11 314.38 532.19 339.26 532.26 355.5 532.33 360.67 532.41 353.98 532.48 336.41 532.55 310.59 532.63 280.38 532.7 250.32 532.77 224.95 532.84 208.09 532.92 202.3 532.99 208.48 533.06 225.7 533.14 251.37 533.21 281.62 533.28 311.87 533.35 337.52 533.43 354.67 533.5 360.7 533.57 354.67 533.65 337.48 533.72 311.74 533.79 281.38 533.86 251.01 533.94 225.3 534.01 208.18 534.08 202.3 534.16 208.57 534.23 226.05 534.3 252.06 534.37 282.62 534.45 313.02 534.52 338.57 534.59 355.32 534.67 360.67 534.74 353.78 534.81 335.69 534.89 309.2 534.96 278.39 535.03 248.05 535.1 222.9 535.18 206.85 535.25 202.43 535.32 210.32 535.4 229.33 535.47 256.5 535.54 287.59 535.61 317.74 535.69 342.23 535.76 357.2 535.83 360.3 535.91 351.02 535.98 330.8 536.05 302.81 536.12 271.45 536.2 241.66 536.27 218.15 536.34 204.63 536.42 203.28 536.49 214.3 536.56 235.99 536.63 264.9 536.71 296.46 536.78 325.66 536.85 347.85 536.93 359.48 537 358.68 537.07 345.57 537.14 322.22 537.22 292.34 537.29 260.72 537.36 232.41 537.44 211.96 537.51 202.66 537.58 206.02 537.66 221.52 537.73 246.68 537.8 277.47 537.87 308.91 537.95 335.95 538.02 354.2 538.09 360.7 538.17 354.38 538.24 336.25 538.31 309.23 538.38 277.7 538.46 246.77 538.53 221.47 538.6 205.94 538.68 202.71 538.75 212.34 538.82 233.26 538.89 262.08 538.97 294.08 539.04 324.04 539.11 347.04 539.19 359.3 539.26 358.79 539.33 345.57 539.4 321.81 539.48 291.4 539.55 259.34 539.62 230.92 539.7 210.84 539.77 202.44 539.84 207.11 539.92 224.11 539.99 250.62 540.06 282.28 540.13 313.82 540.21 339.99 540.28 356.45 540.35 360.43 540.43 351.26 540.5 330.43 540.57 301.43 540.64 269.08 540.72 238.79 540.79 215.65 540.86 203.53 540.94 204.5 541.01 218.39 541.08 242.91 541.15 273.93 541.23 306.24 541.3 334.39 541.37 353.63 541.45 360.69 541.52 354.37 541.59 335.71 541.66 307.86 541.74 275.53 541.81 244.19 541.88 219.18 541.96 204.76 542.03 203.39 542.1 215.32 542.18 238.55 542.25 269.11 542.32 301.81 542.39 331.04 542.47 351.82 542.54 360.55 542.61 355.74 542.69 338.18 542.76 310.88 542.83 278.51 542.9 246.65 542.98 220.77 543.05 205.36 543.12 203.07 543.2 214.34 543.27 237.21 543.34 267.77 543.41 300.71 543.49 330.34 543.56 351.51 543.63 360.52 543.71 355.8 543.78 338.15 543.85 310.63 543.92 278.01 544 245.99 544.07 220.15 544.14 205.03 544.22 203.29 544.29 215.24 544.36 238.81 544.43 269.88 544.51 303.01 544.58 332.37 544.65 352.79 544.73 360.67 544.8 354.6 544.87 335.63 544.95 307.09 545.02 274.02 545.09 242.25 545.16 217.43 545.24 203.94 545.31 204.21 545.38 218.21 545.46 243.45 545.53 275.48 545.6 308.59 545.67 336.89 545.75 355.32 545.82 360.58 545.89 351.71 545.97 330.28 546.04 300.11 546.11 266.59 546.18 235.73 546.26 213.07 546.33 202.7 546.4 206.49 546.48 223.79 546.55 251.49 546.62 284.61 546.69 317.19 546.77 343.33 546.84 358.31 546.91 359.39 546.99 346.36 547.06 321.57 547.13 289.5 547.21 255.96 547.28 227.05 547.35 208.03 547.42 202.39 547.5 211.16 547.57 232.77 547.64 263.28 547.72 297.14 547.79 328.15 547.86 350.64 547.93 360.46 548.01 355.8 548.08 337.5 548.15 308.91 548.23 275.26 548.3 242.74 548.37 217.35 548.44 203.78 548.52 204.55 548.59 219.54 548.66 245.99 548.74 279.02 548.81 312.53 548.88 340.29 548.95 357.16 549.03 359.99 549.1 348.22 549.17 324.04 549.25 291.92 549.32 257.85 549.39 228.17 549.47 208.45 549.54 202.36 549.61 211.08 549.68 232.98 549.76 263.99 549.83 298.29 549.9 329.46 549.98 351.62 550.05 360.62 550.12 354.72 550.19 335.03 550.27 305.23 550.34 270.95 550.41 238.64 550.49 214.43 550.56 202.89 550.63 206.24 550.7 223.85 550.78 252.41 550.85 286.5 550.92 319.66 551 345.57 551.07 359.3 551.14 358.2 551.21 342.48 551.29 315.11 551.36 281.31 551.43 247.53 551.51 220.23 551.58 204.67 551.65 203.82 551.72 217.89 551.8 244.17 551.87 277.64 551.94 311.87 552.02 340.27 552.09 357.35 552.16 359.8 552.24 347.14 552.31 321.79 552.38 288.64 552.45 254.09 552.53 224.84 552.6 206.56 552.67 202.82 552.75 214.36 552.82 238.96 552.89 271.85 552.96 306.63 553.04 336.53 553.11 355.7 553.18 360.39 553.26 349.67 553.33 325.6 553.4 292.9 553.47 257.94 553.55 227.6 553.62 207.82 553.69 202.5 553.77 212.72 553.84 236.48 553.91 269.11 553.98 304.2 554.06 334.83 554.13 354.93 554.2 360.54 554.28 350.51 554.35 326.81 554.42 294.13 554.5 258.93 554.57 228.19 554.64 208.03 554.71 202.48 554.79 212.64 554.86 236.53 554.93 269.39 555.01 304.68 555.08 335.35 555.15 355.28 555.22 360.45 555.3 349.82 555.37 325.5 555.44 292.34 555.52 257 555.59 226.56 555.66 207.15 555.73 202.7 555.81 214.12 555.88 239.12 555.95 272.69 556.03 308.04 556.1 338.05 556.17 356.63 556.24 360.01 556.32 347.49 556.39 321.57 556.46 287.52 556.54 252.23 556.61 222.87 556.68 205.44 556.76 203.48 556.83 217.43 556.9 244.45 556.97 279.04 557.05 314.16 557.12 342.6 557.19 358.56 557.27 358.73 557.34 343.07 557.41 314.77 557.48 279.63 557.56 244.85 557.63 217.6 557.7 203.5 557.78 205.46 557.85 223.11 557.92 252.82 557.99 288.46 558.07 322.68 558.14 348.39 558.21 360.26 558.29 355.8 558.36 335.94 558.43 304.76 558.5 268.73 558.58 235.35 558.65 211.56 558.72 202.33 558.8 209.6 558.87 231.88 558.94 264.53 559.01 300.74 559.09 332.94 559.16 354.38 559.23 360.56 559.31 350.16 559.38 325.34 559.45 291.3 559.53 255.19 559.6 224.6 559.67 205.98 559.74 203.28 559.82 217.07 559.89 244.47 559.96 279.7 560.04 315.33 560.11 343.82 560.18 359.11 560.25 357.96 560.33 340.58 560.4 310.65 560.47 274.51 560.55 239.85 560.62 214.04 560.69 202.59 560.76 207.97 560.84 229.04 560.91 261.32 560.98 297.93 561.06 331.04 561.13 353.56 561.2 360.64 561.27 350.75 561.35 325.99 561.42 291.67 561.49 255.14 561.57 224.27 561.64 205.72 561.71 203.49 561.79 218.09 561.86 246.38 561.93 282.28 562 318.02 562.08 345.87 562.15 359.78 562.22 356.74 562.3 337.37 562.37 305.86 562.44 269.04 562.51 234.92 562.59 210.93 562.66 202.3 562.73 210.94 562.81 234.97 562.88 269.18 562.95 306.09 563.02 337.64 563.1 356.91 563.17 359.66 563.24 345.28 563.32 316.89 563.39 280.72 563.46 244.71 563.53 216.77 563.61 203.08 563.68 206.66 563.75 226.75 563.83 258.93 563.9 296.1 563.97 330.07 564.05 353.3 564.12 360.64 564.19 350.45 564.26 324.96 564.34 289.81 564.41 252.81 564.48 222.17 564.56 204.72 564.63 204.36 564.7 221.2 564.77 251.49 564.85 288.49 564.92 323.94 564.99 349.92 565.07 360.6 565.14 353.57 565.21 330.38 565.28 296.22 565.36 258.74 565.43 226.36 565.5 206.37 565.58 203.28 565.65 217.8 565.72 246.68 565.79 283.44 565.87 319.76 565.94 347.46 566.01 360.25 566.09 355.23 566.16 333.5 566.23 299.98 566.3 262.26 566.38 228.89 566.45 207.46 566.52 202.86 566.6 216.15 566.67 244.34 566.74 281 566.82 317.8 566.89 346.32 566.96 360.04 567.03 355.8 567.11 334.57 567.18 301.17 567.25 263.25 567.33 229.5 567.4 207.68 567.47 202.81 567.54 216.03 567.62 244.33 567.69 281.2 567.76 318.15 567.84 346.66 567.91 360.14 567.98 355.45 568.05 333.67 568.13 299.8 568.2 261.68 568.27 228.15 568.35 206.97 568.42 203.09 568.49 217.43 568.56 246.66 568.64 284.02 568.71 320.8 568.78 348.44 568.86 360.47 568.93 354.07 569 330.72 569.08 295.85 569.15 257.61 569.22 224.95 569.29 205.53 569.37 203.92 569.44 220.52 569.51 251.45 569.59 289.46 569.66 325.6 569.73 351.38 569.8 360.7 569.88 351.34 569.95 325.5 570.02 289.26 570.1 251.16 570.17 220.23 570.24 203.8 570.31 205.77 570.39 225.7 570.46 258.87 570.53 297.44 570.61 332.23 570.68 354.97 570.75 360.22 570.82 346.72 570.9 317.67 570.97 279.98 571.04 242.63 571.12 214.56 571.19 202.49 571.26 209.33 571.34 233.46 571.41 269.11 571.48 307.75 571.55 340.1 571.63 358.38 571.7 358.18 571.77 339.53 571.85 306.89 571.92 268.12 571.99 232.57 572.06 208.81 572.14 202.61 572.21 215.48 572.28 244.33 572.36 282.19 572.43 319.9 572.5 348.31 572.57 360.51 572.65 353.53 572.72 329.03 572.79 292.96 572.87 254.09 572.94 221.88 573.01 204.2 573.08 205.38 573.16 225.15 573.23 258.7 573.3 297.83 573.38 332.99 573.45 355.54 573.52 359.95 573.59 345.11 573.67 314.65 573.74 276.03 573.81 238.74 573.89 211.96 573.96 202.3 574.03 212.16 574.11 239.12 574.18 276.56 574.25 315.23 574.32 345.57 574.4 360.08 574.47 355.13 574.54 331.93 574.62 296.22 574.69 256.84 574.76 223.57 574.83 204.69 574.91 204.91 574.98 224.2 575.05 257.77 575.13 297.26 575.2 332.84 575.27 355.61 575.34 359.87 575.42 344.53 575.49 313.41 575.56 274.29 575.64 236.96 575.71 210.79 575.78 202.36 575.85 213.81 575.93 242.29 576 280.64 576.07 319.22 576.15 348.31 576.22 360.56 576.29 352.86 576.37 327.14 576.44 289.87 576.51 250.47 576.58 218.91 576.66 203.2 576.73 207.33 576.8 230.28 576.88 266.24 576.95 306.09 577.02 339.71 577.09 358.52 577.17 357.72 577.24 337.5 577.31 302.99 577.39 262.98 577.46 227.69 577.53 206.14 577.6 203.86 577.68 221.46 577.75 254.45 577.82 294.38 577.9 331.03 577.97 354.97 578.04 360.03 578.11 344.91 578.19 313.46 578.26 273.77 578.33 236.06 578.41 210.05 578.48 202.48 578.55 215.32 578.63 245.27 578.7 284.61 578.77 323.15 578.84 350.92 578.92 360.69 578.99 349.92 579.06 321.38 579.14 282.46 579.21 243.28 579.28 214.04 579.35 202.35 579.43 211.29 579.5 238.55 579.57 277.02 579.65 316.68 579.72 347.16 579.79 360.47 579.86 353.11 579.94 326.98 580.01 288.92 580.08 248.9 580.16 217.43 580.23 202.78 580.3 208.83 580.37 234 580.45 271.7 580.52 311.99 580.59 344.25 580.67 359.96 580.74 354.95 580.81 330.53 580.88 293.12 580.96 252.63 581.03 219.77 581.1 203.26 581.18 207.51 581.25 231.41 581.32 268.62 581.4 309.27 581.47 342.54 581.54 359.57 581.61 355.8 581.69 332.22 581.76 295.09 581.83 254.31 581.91 220.79 581.98 203.5 582.05 207.08 582.12 230.59 582.2 267.76 582.27 308.63 582.34 342.23 582.42 359.52 582.49 355.85 582.56 332.17 582.63 294.84 582.71 253.91 582.78 220.4 582.85 203.36 582.93 207.42 583 231.5 583.07 269.11 583.14 310.08 583.22 343.33 583.29 359.83 583.36 355.09 583.44 330.38 583.51 292.38 583.58 251.41 583.66 218.62 583.73 202.92 583.8 208.63 583.87 234.2 583.95 272.69 584.02 313.59 584.09 345.74 584.17 360.34 584.24 353.37 584.31 326.73 584.38 287.68 584.46 246.93 584.53 215.65 584.6 202.44 584.68 210.95 584.75 238.86 584.82 278.51 584.89 319.01 584.97 349.17 585.04 360.69 585.11 350.36 585.19 321 585.26 280.72 585.33 240.64 585.4 211.86 585.48 202.35 585.55 214.78 585.62 245.72 585.7 286.6 585.77 326.07 585.84 353.18 585.92 360.35 585.99 345.57 586.06 312.95 586.13 271.54 586.21 232.9 586.28 207.82 586.35 203.31 586.43 220.65 586.5 255.03 586.57 296.83 586.64 334.35 586.72 357.06 586.79 358.58 586.86 338.46 586.94 302.33 587.01 260.33 587.08 224.27 587.15 204.32 587.23 206.1 587.3 229.15 587.37 266.97 587.45 308.91 587.52 343.12 587.59 359.91 587.66 354.52 587.74 328.45 587.81 289.07 587.88 247.53 587.96 215.61 588.03 202.39 588.1 211.66 588.17 240.78 588.25 281.51 588.32 322.24 588.39 351.38 588.47 360.6 588.54 347.24 588.61 315.11 588.69 273.36 588.76 233.92 588.83 208.09 588.9 203.28 588.98 220.88 589.05 255.88 589.12 298.24 589.2 335.81 589.27 357.78 589.34 357.82 589.41 335.89 589.49 298.29 589.56 255.84 589.63 220.77 589.71 203.23 589.78 208.28 589.85 234.5 589.92 274.33 590 316.24 590.07 348.1 590.14 360.67 590.22 350.28 590.29 319.92 590.36 278.39 590.43 237.75 590.51 209.82 590.58 202.75 590.65 218.62 590.73 252.82 590.8 295.39 590.87 333.93 590.95 357.16 591.02 358.29 591.09 336.95 591.16 299.38 591.24 256.55 591.31 221.03 591.38 203.23 591.46 208.4 591.53 235.05 591.6 275.36 591.67 317.48 591.75 349.03 591.82 360.7 591.89 349.03 591.97 317.43 592.04 275.22 592.11 234.85 592.18 208.25 592.26 203.32 592.33 221.52 592.4 257.5 592.48 300.6 592.55 338.05 592.62 358.73 592.69 356.47 592.77 331.93 592.84 292.38 592.91 249.58 592.99 216.28 593.06 202.4 593.13 212.11 593.21 242.54 593.28 284.61 593.35 325.77 593.42 353.7 593.5 360.03 593.57 342.84 593.64 307.26 593.72 263.95 593.79 225.89 593.86 204.52 593.93 206.28 594.01 230.66 594.08 270.35 594.15 313.41 594.23 346.87 594.3 360.62 594.37 350.51 594.44 319.55 594.52 277.08 594.59 235.93 594.66 208.57 594.74 203.28 594.81 221.69 594.88 258.24 594.95 301.87 595.03 339.32 595.1 359.22 595.17 355.49 595.25 329.25 595.32 288.46 595.39 245.54 595.46 213.57 595.54 202.32 595.61 215.24 595.68 248.41 595.76 291.7 595.83 331.89 595.9 356.67 595.98 358.42 596.05 336.59 596.12 297.86 596.19 254.09 596.27 218.72 596.34 202.65 596.41 210.82 596.49 240.76 596.56 283.25 596.63 325.22 596.7 353.71 596.78 359.93 596.85 341.92 596.92 305.23 597 261.19 597.07 223.43 597.14 203.63 597.21 207.97 597.29 235.1 597.36 276.65 597.43 319.72 597.51 350.92 597.58 360.54 597.65 345.57 597.72 310.65 597.8 266.63 597.87 227.23 597.94 204.76 598.02 206.24 598.09 231.23 598.16 271.95 598.24 315.67 598.31 348.71 598.38 360.7 598.45 347.86 598.53 314.21 598.6 270.27 598.67 229.85 598.75 205.65 598.82 205.31 598.89 228.94 598.96 269.14 599.04 313.25 599.11 347.35 599.18 360.68 599.26 349.01 599.33 316 599.4 272.07 599.47 231.11 599.55 206.09 599.62 204.96 599.69 228.11 599.77 268.2 599.84 312.53 599.91 347.01 599.98 360.67 600.06 349.15 600.13 316.09 600.2 272 600.28 230.92 600.35 205.97 600.42 205.12 600.5 228.66 600.57 269.11 600.64 313.53 600.71 347.71 600.79 360.7 600.86 348.3 600.93 314.48 601.01 270.06 601.08 229.31 601.15 205.31 601.22 205.8 601.3 230.66 601.37 271.89 601.44 316.23 601.52 349.39 601.59 360.65 601.66 346.36 601.73 311.12 601.81 266.29 601.88 226.36 601.95 204.27 602.03 207.2 602.1 234.2 602.17 276.56 602.24 320.53 602.32 351.84 602.39 360.3 602.46 343.13 602.54 305.91 602.61 260.72 602.68 222.29 602.75 203.16 602.83 209.58 602.9 239.48 602.97 283.12 603.05 326.25 603.12 354.75 603.19 359.27 603.27 338.33 603.34 298.75 603.41 253.5 603.48 217.43 603.56 202.39 603.63 213.35 603.7 246.72 603.78 291.55 603.85 333.08 603.92 357.63 603.99 357.09 604.07 331.6 604.14 289.56 604.21 244.85 604.29 212.24 604.36 202.53 604.43 218.96 604.5 256.11 604.58 301.69 604.65 340.58 604.72 359.88 604.8 353.15 604.87 322.61 604.94 278.39 605.01 235.19 605.09 207.4 605.16 204.29 605.23 226.92 605.31 267.77 605.38 313.21 605.45 348.07 605.53 360.69 605.6 346.83 605.67 311.09 605.74 265.43 605.82 225.15 605.89 203.75 605.96 208.44 606.04 237.66 606.11 281.62 606.18 325.56 606.25 354.68 606.33 359.18 606.4 337.5 606.47 296.94 606.55 251.16 606.62 215.61 606.69 202.3 606.76 215.76 606.84 251.45 606.91 297.32 606.98 337.85 607.06 359.3 607.13 354.37 607.2 324.72 607.27 280.38 607.35 236.41 607.42 207.76 607.49 204.18 607.57 226.92 607.64 268.26 607.71 314.12 607.79 348.87 607.86 360.64 607.93 345.39 608 308.3 608.08 262.04 608.15 222.42 608.22 203.02 608.3 210.5 608.37 242.32 608.44 287.59 608.51 330.78 608.59 357.06 608.66 357.38 608.73 331.6 608.81 288.57 608.88 243.1 608.95 210.84 609.02 202.94 609.1 222.14 609.17 261.83 609.24 308.34 609.32 345.57 609.39 360.66 609.46 348.35 609.53 312.89 609.61 266.54 609.68 225.36 609.75 203.65 609.83 208.97 609.9 239.48 609.97 284.62 610.04 328.68 610.12 356.33 610.19 357.93 610.26 332.88 610.34 289.91 610.41 243.99 610.48 211.16 610.56 202.89 610.63 222.11 610.7 262.11 610.77 308.91 610.85 346.12 610.92 360.69 610.99 347.49 611.07 311.12 611.14 264.34 611.21 223.57 611.28 203.17 611.36 210.32 611.43 242.54 611.5 288.49 611.58 331.99 611.65 357.69 611.72 356.51 611.79 328.83 611.87 284.42 611.94 238.96 612.01 208.54 612.09 203.95 612.16 226.84 612.23 269.11 612.3 315.79 612.38 350.31 612.45 360.4 612.52 342.45 612.6 302.81 612.67 255.58 612.74 217.57 612.82 202.33 612.89 215.31 612.96 251.91 613.03 299.09 613.11 339.99 613.18 360 613.25 351.94 613.33 318.66 613.4 272.07 613.47 228.84 613.54 204.48 613.62 207.75 613.69 237.5 613.76 283.06 613.84 328.08 613.91 356.35 613.98 357.69 614.05 331.59 614.13 287.43 614.2 241.12 614.27 209.37 614.35 203.65 614.42 226.05 614.49 268.5 614.56 315.67 614.64 350.48 614.71 360.32 614.78 341.6 614.86 301.08 614.93 253.44 615 215.98 615.08 202.31 615.15 217.43 615.22 255.85 615.29 303.63 615.37 343.35 615.44 360.55 615.51 348.93 615.59 312.7 615.66 265.07 615.73 223.43 615.8 203 615.88 211.29 615.95 245.27 616.02 292.54 616.1 335.77 616.17 359.11 616.24 353.98 616.31 322.24 616.39 275.53 616.46 230.99 616.53 205.02 616.61 207.2 616.68 236.73 616.75 282.78 616.82 328.36 616.9 356.67 616.97 357.23 617.04 329.82 617.12 284.54 617.19 238.12 617.26 207.74 617.33 204.67 617.41 230.07 617.48 274.54 617.55 321.61 617.63 353.8 617.7 359.14 617.77 335.63 617.85 291.97 617.92 244.41 617.99 210.65 618.06 203.28 618.14 225.06 618.21 267.91 618.28 315.85 618.36 350.96 618.43 360.13 618.5 339.89 618.57 297.8 618.65 249.59 618.72 213.33 618.79 202.61 618.87 221.48 618.94 262.89 619.01 311.3 619.08 348.52 619.16 360.55 619.23 342.84 619.3 302.03 619.38 253.48 619.45 215.47 619.52 202.36 619.59 219.12 619.67 259.43 619.74 308.1 619.81 346.72 619.89 360.68 619.96 344.67 620.03 304.72 620.11 255.96 620.18 216.88 620.25 202.3 620.32 217.8 620.4 257.5 620.47 306.34 620.54 345.74 620.62 360.7 620.69 345.5 620.76 305.91 620.83 257 620.91 217.42 620.98 202.3 621.05 217.43 621.13 257.06 621.2 306.04 621.27 345.65 621.34 360.7 621.42 345.41 621.49 305.61 621.56 256.55 621.64 217.06 621.71 202.3 621.78 217.98 621.85 258.09 621.93 307.22 622 346.46 622.07 360.68 622.15 344.38 622.22 303.83 622.29 254.64 622.37 215.82 622.44 202.36 622.51 219.5 622.58 260.63 622.66 309.85 622.73 348.1 622.8 360.55 622.88 342.35 622.95 300.53 623.02 251.31 623.09 213.8 623.17 202.61 623.24 222.1 623.31 264.71 623.39 313.87 623.46 350.43 623.53 360.13 623.6 339.15 623.68 295.66 623.75 246.63 623.82 211.21 623.9 203.28 623.97 225.94 624.04 270.37 624.11 319.17 624.19 353.22 624.26 359.14 624.33 334.6 624.41 289.19 624.48 240.76 624.55 208.33 624.62 204.67 624.7 231.26 624.77 277.64 624.84 325.56 624.92 356.11 624.99 357.23 625.06 328.45 625.14 281.12 625.21 233.92 625.28 205.53 625.35 207.2 625.43 238.28 625.5 286.5 625.57 332.75 625.65 358.68 625.72 353.98 625.79 320.5 625.86 271.5 625.94 226.47 626.01 203.32 626.08 211.29 626.16 247.22 626.23 296.83 626.3 340.33 626.37 360.37 626.45 348.93 626.52 310.54 626.59 260.53 626.67 218.9 626.74 202.31 626.81 217.43 626.88 258.22 626.96 308.36 627.03 347.73 627.1 360.54 627.18 341.6 627.25 298.5 627.32 248.56 627.4 211.86 627.47 203.18 627.54 226.05 627.61 271.27 627.69 320.63 627.76 354.21 627.83 358.45 627.91 331.59 627.98 284.49 628.05 236.16 628.12 206.17 628.2 206.67 628.27 237.5 628.34 286.17 628.42 332.96 628.49 358.87 628.56 353.37 628.63 318.66 628.71 268.83 628.78 224.14 628.85 202.79 628.93 213.49 629 251.91 629.07 302.41 629.14 344.38 629.22 360.7 629.29 344.67 629.36 302.81 629.44 252.23 629.51 213.61 629.58 202.78 629.66 224.2 629.73 269.11 629.8 319.12 629.87 353.7 629.95 358.64 630.02 331.89 630.09 284.42 630.17 235.73 630.24 205.87 630.31 207.15 630.38 239.07 630.46 288.49 630.53 335.04 630.6 359.5 630.68 351.75 630.75 314.97 630.82 264.34 630.89 220.79 630.97 202.37 631.04 216.72 631.11 257.92 631.19 308.91 631.26 348.54 631.33 360.35 631.4 339.4 631.48 294.38 631.55 243.99 631.62 209.2 631.7 204.5 631.77 231.88 631.84 279.95 631.91 328.68 631.99 357.73 632.06 354.95 632.13 321.49 632.21 271.3 632.28 225.36 632.35 202.91 632.43 213.36 632.5 252.37 632.57 303.6 632.64 345.57 632.72 360.66 632.79 342.5 632.86 298.71 632.94 247.67 633.01 210.84 633.08 203.76 633.15 229.41 633.23 277.02 633.3 326.54 633.37 357.06 633.45 355.69 633.52 322.99 633.59 272.74 633.66 226.18 633.74 203.02 633.81 213.08 633.88 252.12 633.96 303.63 634.03 345.76 634.1 360.64 634.17 341.92 634.25 297.53 634.32 246.32 634.39 210.05 634.47 204.18 634.54 231.23 634.61 279.7 634.69 328.95 634.76 357.98 634.83 354.37 634.9 319.65 634.98 268.62 635.05 223.08 635.12 202.52 635.2 215.76 635.27 257.14 635.34 308.98 635.41 349.05 635.49 360.15 635.56 337.5 635.63 290.8 635.71 240.09 635.78 207.17 635.85 206.21 635.92 237.66 636 287.99 636.07 335.54 636.14 359.8 636.22 350.29 636.29 311.09 636.36 259.1 636.43 216.77 636.51 202.42 636.58 222.28 636.65 267.77 636.73 319.22 636.8 354.34 636.87 357.88 636.95 328.3 637.02 278.39 637.09 229.82 637.16 203.7 637.24 211.39 637.31 249.59 637.38 301.69 637.46 345 637.53 360.66 637.6 341.8 637.67 296.64 637.75 244.85 637.82 209.06 637.89 204.91 637.97 234.25 638.04 284.27 638.11 333.08 638.18 359.32 638.26 351.46 638.33 312.93 638.4 260.59 638.48 217.43 638.55 202.39 638.62 222.11 638.69 267.95 638.77 319.76 638.84 354.75 638.91 357.48 638.99 326.73 639.06 276.03 639.13 227.73 639.2 203.16 639.28 213.18 639.35 253.39 639.42 306.04 639.5 347.85 639.57 360.3 639.64 337.85 639.72 290.43 639.79 239.04 639.86 206.47 639.93 207.2 640.01 240.92 640.08 292.69 640.15 339.49 640.23 360.51 640.3 346.36 640.37 303.33 640.44 250.55 640.52 211.56 640.59 203.76 640.66 230.66 640.74 280.26 640.81 330.43 640.88 358.74 640.95 352.5 641.03 314.48 641.1 261.68 641.17 217.75 641.25 202.39 641.32 222.51 641.39 269.11 641.46 321.29 641.54 355.6 641.61 356.61 641.68 323.83 641.76 272 641.83 224.43 641.9 202.56 641.98 216.28 642.05 259.41 642.12 312.53 642.19 351.64 642.27 359.08 642.34 331.45 642.41 281.22 642.49 231.11 642.56 203.8 642.63 211.68 642.7 251.22 642.78 304.5 642.85 347.35 642.92 360.32 643 337.48 643.07 289.19 643.14 237.4 643.21 205.65 643.29 208.44 643.36 244.5 643.43 297.44 643.51 343.12 643.58 360.7 643.65 342.12 643.72 295.85 643.8 243.01 643.87 207.76 643.94 206.24 644.02 239.17 644.09 291.5 644.16 339.26 644.24 360.54 644.31 345.57 644.38 301.19 644.45 247.75 644.53 209.81 644.6 204.82 644.67 235.1 644.75 286.75 644.82 335.99 644.89 360.14 644.96 348.03 645.04 305.23 645.11 251.47 645.18 211.56 645.26 203.96 645.33 232.2 645.4 283.25 645.47 333.5 645.55 359.69 645.62 349.65 645.69 308.03 645.77 254.09 645.84 212.86 645.91 203.48 645.98 230.35 646.06 281 646.13 331.89 646.2 359.35 646.28 350.57 646.35 309.61 646.42 255.54 646.49 213.57 646.57 203.28 646.64 229.5 646.71 280.01 646.79 331.24 646.86 359.22 646.93 350.84 647.01 310.01 647.08 255.82 647.15 213.64 647.22 203.28 647.3 229.6 647.37 280.29 647.44 331.56 647.52 359.32 647.59 350.51 647.66 309.23 647.73 254.9 647.81 213.08 647.88 203.48 647.95 230.66 648.03 281.82 648.1 332.84 648.17 359.64 648.24 349.53 648.32 307.26 648.39 252.81 648.46 211.91 648.54 203.95 648.61 232.72 648.68 284.61 648.75 335.04 648.83 360.08 648.9 347.83 648.97 304.07 649.05 249.58 649.12 210.25 649.19 204.81 649.27 235.86 649.34 288.65 649.41 338.05 649.48 360.5 649.56 345.28 649.63 299.62 649.7 245.29 649.78 208.25 649.85 206.21 649.92 240.18 649.99 293.92 650.07 341.73 650.14 360.7 650.21 341.72 650.29 293.86 650.36 240.06 650.43 206.14 650.5 208.4 650.58 245.79 650.65 300.36 650.72 345.87 650.8 360.4 650.87 336.95 650.94 286.78 651.01 234.05 651.09 204.19 651.16 211.64 651.23 252.82 651.31 307.86 651.38 350.18 651.45 359.29 651.53 330.77 651.6 278.39 651.67 227.51 651.74 202.77 651.82 216.21 651.89 261.32 651.96 316.24 652.04 354.3 652.11 356.99 652.18 322.99 652.25 268.8 652.33 220.77 652.4 202.31 652.47 222.42 652.55 271.33 652.62 325.22 652.69 357.78 652.76 353.11 652.84 313.46 652.91 258.18 652.98 214.29 653.06 203.28 653.13 230.54 653.2 282.78 653.27 334.39 653.35 360.09 653.42 347.24 653.49 302.13 653.57 246.87 653.64 208.62 653.71 206.18 653.78 240.78 653.86 295.43 653.93 343.23 654 360.64 654.08 339.04 654.15 289.07 654.22 235.35 654.3 204.4 654.37 211.52 654.44 253.22 654.51 308.91 654.59 351.06 654.66 358.79 654.73 328.25 654.81 274.54 654.88 224.27 654.95 202.38 655.02 219.73 655.1 267.76 655.17 322.62 655.24 357.06 655.32 353.93 655.39 314.77 655.46 259.04 655.53 214.48 655.61 203.31 655.68 231.11 655.75 284.06 655.83 335.74 655.9 360.35 655.97 345.57 656.04 298.77 656.12 243.32 656.19 206.96 656.26 207.91 656.34 245.72 656.41 301.47 656.48 347.22 656.56 360.01 656.63 333.4 656.7 280.72 656.77 228.42 656.85 202.79 656.92 216.74 656.99 263.28 657.07 319.01 657.14 355.85 657.21 355.23 657.28 317.43 657.36 261.5 657.43 215.65 657.5 203.05 657.58 230.09 657.65 283.12 657.72 335.35 657.79 360.34 657.87 345.41 657.94 298.1 658.01 242.37 658.09 206.47 658.16 208.63 658.23 247.79 658.3 304.07 658.38 348.9 658.45 359.47 658.52 330.38 658.6 276.4 658.67 225.01 658.74 202.39 658.82 220.09 658.89 269.11 658.96 324.47 659.03 357.9 659.11 352.32 659.18 310.54 659.25 253.91 659.33 211.38 659.4 204.73 659.47 237.4 659.54 292.67 659.62 342.23 659.69 360.65 659.76 338.46 659.84 287.02 659.91 232.74 659.98 203.5 660.05 214.36 660.13 259.77 660.2 316.37 660.27 355.03 660.35 355.8 660.42 318.28 660.49 261.77 660.56 215.44 660.64 203.2 660.71 231.41 660.78 285.51 660.86 337.55 660.93 360.61 661 342.72 661.07 293.12 661.15 237.49 661.22 204.67 661.29 211.68 661.37 254.94 661.44 311.99 661.51 353.22 661.59 357.18 661.66 321.79 661.73 265.43 661.8 217.43 661.88 202.78 661.95 229.15 662.02 282.81 662.1 335.81 662.17 360.47 662.24 343.91 662.31 294.74 662.39 238.64 662.46 204.94 662.53 211.29 662.61 254.39 662.68 311.69 662.75 353.19 662.82 357.12 662.9 321.38 662.97 264.71 663.04 216.84 663.12 202.93 663.19 230.31 663.26 284.61 663.33 337.29 663.41 360.61 663.48 342.28 663.55 291.92 663.63 236.06 663.7 204.15 663.77 213.05 663.85 258.09 663.92 315.51 663.99 354.97 664.06 355.58 664.14 317.01 664.21 259.64 664.28 213.83 664.36 203.86 664.43 235.05 664.5 290.88 664.57 341.74 664.65 360.64 664.72 337.5 664.79 284.6 664.87 230.04 664.94 202.84 665.01 217.5 665.08 266.24 665.16 323.12 665.23 357.83 665.3 351.84 665.38 308.32 665.45 250.47 665.52 209.19 665.59 206.53 665.67 243.95 665.74 301.47 665.81 348.31 665.89 359.39 665.96 328.75 666.03 272.78 666.11 221.47 666.18 202.36 666.25 225.72 666.32 279.04 666.4 333.69 666.47 360.3 666.54 344.53 666.62 294.84 666.69 237.96 666.76 204.52 666.83 212.55 666.91 257.77 666.98 315.79 667.05 355.32 667.13 355 667.2 314.97 667.27 256.84 667.34 212.04 667.42 204.81 667.49 239.09 667.56 296.35 667.64 345.57 667.71 360.07 667.78 331.96 667.85 276.46 667.93 223.68 668 202.3 668.07 223.96 668.15 276.91 668.22 332.37 668.29 360.15 668.37 345.11 668.44 295.42 668.51 238.12 668.58 204.47 668.66 212.84 668.73 258.7 668.8 317.01 668.88 355.94 668.95 354.17 669.02 312.66 669.09 254.09 669.17 210.51 669.24 205.81 669.31 242.59 669.39 300.71 669.46 348.31 669.53 359.24 669.6 327.49 669.68 270.46 669.75 219.49 669.82 202.61 669.9 229.13 669.97 284.49 670.04 338.21 670.11 360.69 670.19 339.53 670.26 286.35 670.33 230.48 670.41 202.77 670.48 218.55 670.55 269.11 670.62 326.54 670.7 359.06 670.77 348.66 670.84 301.08 670.92 242.63 670.99 205.72 671.06 210.82 671.14 255.14 671.21 314.1 671.28 354.97 671.35 355.02 671.43 314.21 671.5 255.19 671.57 210.81 671.65 205.77 671.72 242.91 671.79 301.57 671.86 349.05 671.94 358.86 672.01 325.5 672.08 267.57 672.16 217.41 672.23 203.06 672.3 232.57 672.37 289.46 672.45 341.91 672.52 360.54 672.59 334.89 672.67 279.32 672.74 224.95 672.81 202.3 672.88 224.11 672.96 278.15 673.03 334.09 673.1 360.47 673.18 342.45 673.25 290.12 673.32 232.93 673.4 203.09 673.47 217.43 673.54 267.89 673.61 326.04 673.69 359.07 673.76 348.3 673.83 299.8 673.91 240.94 673.98 205.01 674.05 212.34 674.12 258.81 674.2 318.15 674.27 356.73 674.34 352.68 674.42 308.26 674.49 248.65 674.56 207.68 674.63 208.62 674.71 250.97 674.78 310.68 674.85 353.81 674.93 355.8 675 315.5 675.07 255.82 675.14 210.76 675.22 206.02 675.29 244.34 675.36 303.86 675.44 350.64 675.51 357.93 675.58 321.54 675.65 262.26 675.73 213.97 675.8 204.32 675.87 238.86 675.95 297.83 676.02 347.46 676.09 359.27 676.17 326.47 676.24 267.85 676.31 217.06 676.38 203.28 676.46 234.45 676.53 292.69 676.6 344.5 676.68 360.06 676.75 330.38 676.82 272.53 676.89 219.84 676.97 202.7 677.04 231.02 677.11 288.49 677.19 341.93 677.26 360.47 677.33 333.35 677.4 276.25 677.48 222.17 677.55 202.43 677.62 228.48 677.7 285.26 677.77 339.87 677.84 360.64 677.91 335.48 677.99 278.98 678.06 223.93 678.13 202.33 678.21 226.75 678.28 283.02 678.35 338.42 678.43 360.69 678.5 336.83 678.57 280.72 678.64 225.05 678.72 202.3 678.79 225.77 678.86 281.78 678.94 337.64 679.01 360.7 679.08 337.45 679.15 281.47 679.23 225.49 679.3 202.3" stroke-width="0.32"/></g>
<linearGradient id="egdT" x1="0" y1="0" x2="0" y2="1"><stop offset="0" stop-color="#fff" stop-opacity="0.4"/><stop offset="1" stop-color="#fff" stop-opacity="0"/></linearGradient><linearGradient id="egdB" x1="0" y1="1" x2="0" y2="0"><stop offset="0" stop-color="#fff" stop-opacity="0.4"/><stop offset="1" stop-color="#fff" stop-opacity="0"/></linearGradient><linearGradient id="egdH" x1="0" y1="0" x2="1" y2="0"><stop offset="0" stop-color="#000"/><stop offset="0.25" stop-color="#000"/><stop offset="0.5" stop-color="#fff"/><stop offset="0.9" stop-color="#fff"/><stop offset="1" stop-color="#888"/></linearGradient><mask id="egdM" maskContentUnits="objectBoundingBox"><rect width="1" height="1" fill="url(#egdH)"/></mask><rect x="388.2" y="202.8" width="290.6" height="28" fill="url(#egdT)" mask="url(#egdM)"/><rect x="388.2" y="332.2" width="290.6" height="28" fill="url(#egdB)" mask="url(#egdM)"/>
<path d="M387.7 241.9H679.3M387.7 281.5H679.3M387.7 321.1H679.3" fill="none" stroke="#f4f4f4" stroke-width="0.9" style="mix-blend-mode:multiply"/>
<path d="M387.7 360.7v3M399.36 360.7v2M411.03 360.7v2M422.69 360.7v2M434.36 360.7v2M446.02 360.7v3M457.68 360.7v2M469.35 360.7v2M481.01 360.7v2M492.68 360.7v2M504.34 360.7v3M516 360.7v2M527.67 360.7v2M539.33 360.7v2M551 360.7v2M562.66 360.7v3M574.32 360.7v2M585.99 360.7v2M597.65 360.7v2M609.32 360.7v2M620.98 360.7v3M632.64 360.7v2M644.31 360.7v2M655.97 360.7v2M667.64 360.7v2M679.3 360.7v3M387.7 360.7h-3M387.7 352.78h-2M387.7 344.86h-2M387.7 336.94h-2M387.7 329.02h-2M387.7 321.1h-3M387.7 313.18h-2M387.7 305.26h-2M387.7 297.34h-2M387.7 289.42h-2M387.7 281.5h-3M387.7 273.58h-2M387.7 265.66h-2M387.7 257.74h-2M387.7 249.82h-2M387.7 241.9h-3M387.7 233.98h-2M387.7 226.06h-2M387.7 218.14h-2M387.7 210.22h-2M387.7 202.3h-3" fill="none" stroke="#777" stroke-width="0.8"/>
<rect x="642.25" y="342.25" width="34.7" height="15.4" fill="#fff" stroke="#000" stroke-width="1.3"/><path d="M642.4 358.5H677.6" stroke="#000" stroke-width="0.9" stroke-opacity="0.8"/>
<g opacity="0.999">
<text x="27.30" y="9.55" font-size="11.3">1.0</text>
<text x="27.25" y="49.90" font-size="11.3">0.5</text>
<text x="31.95" y="89.25" font-size="11.3">0</text>
<text x="23.65" y="129.25" font-size="11.3">-0.5</text>
<text x="24.45" y="168.70" font-size="11.3">-1.0</text>
<text x="44.55" y="178.00" font-size="11.3">0</text>
<text x="88.65" y="178.00" font-size="11.3">0.2 T</text>
<text x="146.55" y="178.00" font-size="11.3">0.4 T</text>
<text x="205.05" y="178.00" font-size="11.3">0.6 T</text>
<text x="263.45" y="178.00" font-size="11.3">0.8 T</text>
<text x="335.05" y="177.47" font-size="11.3">T</text>
<text x="180.75" y="189.75" font-size="11.3">Time</text>
<text transform="translate(25.00 111.90) rotate(-90)" font-size="11.3">Amplitude</text>
<text x="1.90" y="9.95" font-size="13.5">a</text>
<text x="312.00" y="156.10" font-size="10"><tspan font-style="italic">f</tspan><tspan font-size="6.5" dy="1.6">q</tspan><tspan dy="-1.6">=</tspan><tspan font-style="italic">f</tspan><tspan font-size="6.5" dy="2.2">H</tspan></text>
<text x="367.60" y="9.55" font-size="11.3">1.0</text>
<text x="367.55" y="49.90" font-size="11.3">0.5</text>
<text x="372.25" y="89.25" font-size="11.3">0</text>
<text x="363.95" y="129.25" font-size="11.3">-0.5</text>
<text x="364.75" y="168.70" font-size="11.3">-1.0</text>
<text x="384.85" y="178.00" font-size="11.3">0</text>
<text x="428.95" y="178.00" font-size="11.3">0.2 T</text>
<text x="486.85" y="178.00" font-size="11.3">0.4 T</text>
<text x="545.35" y="178.00" font-size="11.3">0.6 T</text>
<text x="603.75" y="178.00" font-size="11.3">0.8 T</text>
<text x="675.35" y="177.47" font-size="11.3">T</text>
<text x="521.05" y="189.75" font-size="11.3">Time</text>
<text transform="translate(365.30 111.90) rotate(-90)" font-size="11.3">Amplitude</text>
<text x="348.10" y="9.65" font-size="13.5">b</text>
<text x="645.40" y="156.50" font-size="10"><tspan font-style="italic">f</tspan><tspan font-size="6.5" dy="1.6">q</tspan><tspan dy="-1.6">=2</tspan><tspan font-style="italic">f</tspan><tspan font-size="6.5" dy="2.2">H</tspan></text>
<text x="25.10" y="205.85" font-size="11.3">1.0</text>
<text x="25.05" y="246.20" font-size="11.3">0.5</text>
<text x="29.75" y="285.55" font-size="11.3">0</text>
<text x="21.45" y="325.55" font-size="11.3">-0.5</text>
<text x="22.25" y="365.00" font-size="11.3">-1.0</text>
<text x="42.35" y="374.30" font-size="11.3">0</text>
<text x="86.45" y="374.30" font-size="11.3">0.2 T</text>
<text x="144.35" y="374.30" font-size="11.3">0.4 T</text>
<text x="202.85" y="374.30" font-size="11.3">0.6 T</text>
<text x="261.25" y="374.30" font-size="11.3">0.8 T</text>
<text x="332.85" y="373.77" font-size="11.3">T</text>
<text x="178.55" y="386.05" font-size="11.3">Time</text>
<text transform="translate(22.80 308.20) rotate(-90)" font-size="11.3">Amplitude</text>
<text x="0.05" y="205.65" font-size="13.5">c</text>
<text x="302.90" y="352.30" font-size="10"><tspan font-style="italic">f</tspan><tspan font-size="6.5" dy="1.6">q</tspan><tspan dy="-1.6">=5</tspan><tspan font-style="italic">f</tspan><tspan font-size="6.5" dy="2.2">H</tspan></text>
<text x="367.30" y="205.85" font-size="11.3">1.0</text>
<text x="367.25" y="246.20" font-size="11.3">0.5</text>
<text x="371.95" y="285.55" font-size="11.3">0</text>
<text x="363.65" y="325.55" font-size="11.3">-0.5</text>
<text x="364.45" y="365.00" font-size="11.3">-1.0</text>
<text x="384.55" y="374.30" font-size="11.3">0</text>
<text x="428.65" y="374.30" font-size="11.3">0.2 T</text>
<text x="486.55" y="374.30" font-size="11.3">0.4 T</text>
<text x="545.05" y="374.30" font-size="11.3">0.6 T</text>
<text x="603.45" y="374.30" font-size="11.3">0.8 T</text>
<text x="675.05" y="373.77" font-size="11.3">T</text>
<text x="520.75" y="386.05" font-size="11.3">Time</text>
<text transform="translate(365.00 308.20) rotate(-90)" font-size="11.3">Amplitude</text>
<text x="348.25" y="205.65" font-size="13.5">d</text>
<text x="647.00" y="351.70" font-size="10"><tspan font-style="italic">f</tspan><tspan font-size="6.5" dy="1.6">q</tspan><tspan dy="-1.6">=8</tspan><tspan font-style="italic">f</tspan><tspan font-size="6.5" dy="2.2">H</tspan></text>
</g>
</svg>
</body></html>
